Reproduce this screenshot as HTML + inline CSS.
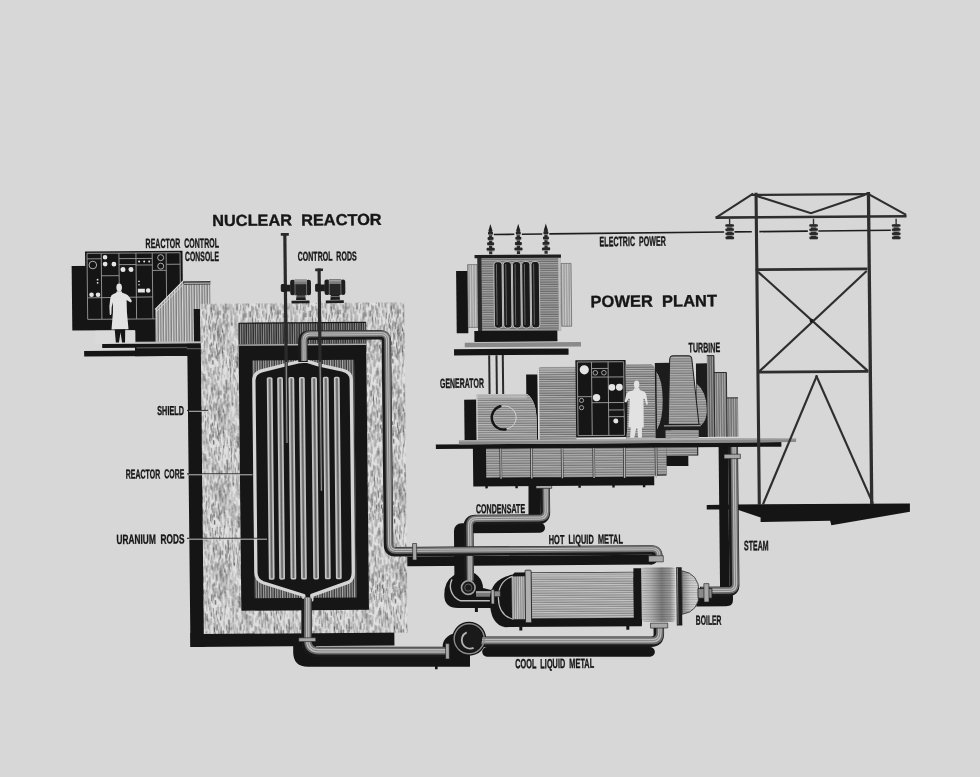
<!DOCTYPE html>
<html><head><meta charset="utf-8"><title>Nuclear Reactor Power Plant</title>
<style>html,body{margin:0;padding:0;background:#d7d7d7;}body{width:980px;height:777px;overflow:hidden;font-family:"Liberation Sans",sans-serif;}svg{display:block;will-change:transform;}</style>
</head><body>
<svg width="980" height="777" viewBox="0 0 980 777"><defs><pattern id="speck" patternUnits="userSpaceOnUse" width="60" height="80"><rect width="60" height="80" fill="#e0e0e0"/><line x1="14.3" y1="43.5" x2="14.3" y2="47.4" stroke="rgb(185,185,185)" stroke-width="0.45" stroke-linecap="round"/><line x1="36.3" y1="72.7" x2="36.3" y2="77.1" stroke="rgb(125,125,125)" stroke-width="0.55" stroke-linecap="round"/><line x1="59.7" y1="37.6" x2="59.7" y2="43.8" stroke="rgb(185,185,185)" stroke-width="0.8" stroke-linecap="round"/><line x1="-0.3" y1="37.6" x2="-0.3" y2="43.8" stroke="rgb(185,185,185)" stroke-width="0.8" stroke-linecap="round"/><line x1="38.3" y1="12.0" x2="38.3" y2="17.2" stroke="rgb(170,170,170)" stroke-width="0.45" stroke-linecap="round"/><line x1="40.3" y1="5.1" x2="40.3" y2="10.9" stroke="rgb(70,70,70)" stroke-width="0.65" stroke-linecap="round"/><line x1="46.8" y1="65.9" x2="46.8" y2="69.2" stroke="rgb(170,170,170)" stroke-width="0.8" stroke-linecap="round"/><line x1="23.7" y1="64.1" x2="23.7" y2="68.3" stroke="rgb(110,110,110)" stroke-width="0.65" stroke-linecap="round"/><line x1="5.8" y1="10.9" x2="5.8" y2="14.0" stroke="rgb(170,170,170)" stroke-width="0.65" stroke-linecap="round"/><line x1="25.3" y1="66.7" x2="25.3" y2="71.5" stroke="rgb(170,170,170)" stroke-width="0.55" stroke-linecap="round"/><line x1="54.3" y1="54.6" x2="54.3" y2="61.2" stroke="rgb(140,140,140)" stroke-width="0.55" stroke-linecap="round"/><line x1="41.9" y1="26.1" x2="41.9" y2="30.8" stroke="rgb(90,90,90)" stroke-width="0.55" stroke-linecap="round"/><line x1="38.0" y1="79.0" x2="38.0" y2="82.4" stroke="rgb(90,90,90)" stroke-width="0.45" stroke-linecap="round"/><line x1="38.0" y1="-1.0" x2="38.0" y2="2.4" stroke="rgb(90,90,90)" stroke-width="0.45" stroke-linecap="round"/><line x1="28.9" y1="51.1" x2="28.9" y2="55.5" stroke="rgb(155,155,155)" stroke-width="0.45" stroke-linecap="round"/><line x1="24.6" y1="12.1" x2="24.6" y2="15.5" stroke="rgb(170,170,170)" stroke-width="0.45" stroke-linecap="round"/><line x1="2.7" y1="49.2" x2="2.7" y2="51.4" stroke="rgb(155,155,155)" stroke-width="0.65" stroke-linecap="round"/><line x1="30.3" y1="79.9" x2="30.3" y2="83.4" stroke="rgb(90,90,90)" stroke-width="0.45" stroke-linecap="round"/><line x1="30.3" y1="-0.1" x2="30.3" y2="3.4" stroke="rgb(90,90,90)" stroke-width="0.45" stroke-linecap="round"/><line x1="36.0" y1="2.5" x2="36.0" y2="5.5" stroke="rgb(170,170,170)" stroke-width="0.65" stroke-linecap="round"/><line x1="36.6" y1="12.5" x2="36.6" y2="14.7" stroke="rgb(155,155,155)" stroke-width="0.65" stroke-linecap="round"/><line x1="21.6" y1="11.1" x2="21.6" y2="17.4" stroke="rgb(170,170,170)" stroke-width="0.8" stroke-linecap="round"/><line x1="52.2" y1="30.9" x2="52.2" y2="37.2" stroke="rgb(90,90,90)" stroke-width="0.65" stroke-linecap="round"/><line x1="25.9" y1="57.6" x2="25.9" y2="60.8" stroke="rgb(140,140,140)" stroke-width="0.8" stroke-linecap="round"/><line x1="58.7" y1="41.7" x2="58.7" y2="46.4" stroke="rgb(70,70,70)" stroke-width="0.8" stroke-linecap="round"/><line x1="59.2" y1="25.2" x2="59.2" y2="29.1" stroke="rgb(110,110,110)" stroke-width="0.45" stroke-linecap="round"/><line x1="38.0" y1="26.6" x2="38.0" y2="30.4" stroke="rgb(155,155,155)" stroke-width="0.65" stroke-linecap="round"/><line x1="44.3" y1="1.8" x2="44.3" y2="4.1" stroke="rgb(70,70,70)" stroke-width="0.65" stroke-linecap="round"/><line x1="15.1" y1="36.5" x2="15.1" y2="41.5" stroke="rgb(155,155,155)" stroke-width="0.55" stroke-linecap="round"/><line x1="21.8" y1="25.0" x2="21.8" y2="28.9" stroke="rgb(140,140,140)" stroke-width="0.65" stroke-linecap="round"/><line x1="47.2" y1="8.4" x2="47.2" y2="14.5" stroke="rgb(110,110,110)" stroke-width="0.65" stroke-linecap="round"/><line x1="30.0" y1="52.3" x2="30.0" y2="55.6" stroke="rgb(155,155,155)" stroke-width="0.55" stroke-linecap="round"/><line x1="40.7" y1="52.0" x2="40.7" y2="54.4" stroke="rgb(155,155,155)" stroke-width="0.65" stroke-linecap="round"/><line x1="40.5" y1="18.0" x2="40.5" y2="24.0" stroke="rgb(110,110,110)" stroke-width="0.45" stroke-linecap="round"/><line x1="20.2" y1="52.0" x2="20.2" y2="58.4" stroke="rgb(185,185,185)" stroke-width="0.65" stroke-linecap="round"/><line x1="13.5" y1="9.7" x2="13.5" y2="14.3" stroke="rgb(125,125,125)" stroke-width="0.65" stroke-linecap="round"/><line x1="48.4" y1="67.1" x2="48.4" y2="70.0" stroke="rgb(140,140,140)" stroke-width="0.65" stroke-linecap="round"/><line x1="48.4" y1="51.4" x2="48.4" y2="57.4" stroke="rgb(155,155,155)" stroke-width="0.55" stroke-linecap="round"/><line x1="25.3" y1="41.5" x2="25.3" y2="47.7" stroke="rgb(185,185,185)" stroke-width="0.65" stroke-linecap="round"/><line x1="38.1" y1="23.2" x2="38.1" y2="28.1" stroke="rgb(70,70,70)" stroke-width="0.8" stroke-linecap="round"/><line x1="9.4" y1="0.4" x2="9.4" y2="7.1" stroke="rgb(170,170,170)" stroke-width="0.55" stroke-linecap="round"/><line x1="1.9" y1="36.5" x2="1.9" y2="42.3" stroke="rgb(140,140,140)" stroke-width="0.65" stroke-linecap="round"/><line x1="53.4" y1="68.9" x2="53.4" y2="75.2" stroke="rgb(140,140,140)" stroke-width="0.45" stroke-linecap="round"/><line x1="48.6" y1="3.6" x2="48.6" y2="10.1" stroke="rgb(125,125,125)" stroke-width="0.8" stroke-linecap="round"/><line x1="34.6" y1="1.1" x2="34.6" y2="6.8" stroke="rgb(110,110,110)" stroke-width="0.65" stroke-linecap="round"/><line x1="14.3" y1="1.6" x2="14.3" y2="6.3" stroke="rgb(70,70,70)" stroke-width="0.45" stroke-linecap="round"/><line x1="20.5" y1="20.2" x2="20.5" y2="26.5" stroke="rgb(185,185,185)" stroke-width="0.45" stroke-linecap="round"/><line x1="21.1" y1="15.8" x2="21.1" y2="20.5" stroke="rgb(90,90,90)" stroke-width="0.55" stroke-linecap="round"/><line x1="14.4" y1="21.9" x2="14.4" y2="28.3" stroke="rgb(110,110,110)" stroke-width="0.45" stroke-linecap="round"/><line x1="29.3" y1="45.7" x2="29.3" y2="49.7" stroke="rgb(140,140,140)" stroke-width="0.55" stroke-linecap="round"/><line x1="16.1" y1="42.2" x2="16.1" y2="46.3" stroke="rgb(185,185,185)" stroke-width="0.65" stroke-linecap="round"/><line x1="46.6" y1="0.1" x2="46.6" y2="2.4" stroke="rgb(110,110,110)" stroke-width="0.45" stroke-linecap="round"/><line x1="7.5" y1="5.5" x2="7.5" y2="12.3" stroke="rgb(90,90,90)" stroke-width="0.8" stroke-linecap="round"/><line x1="19.0" y1="25.2" x2="19.0" y2="28.9" stroke="rgb(170,170,170)" stroke-width="0.65" stroke-linecap="round"/><line x1="21.7" y1="15.3" x2="21.7" y2="18.9" stroke="rgb(90,90,90)" stroke-width="0.55" stroke-linecap="round"/><line x1="33.3" y1="57.3" x2="33.3" y2="61.2" stroke="rgb(90,90,90)" stroke-width="0.55" stroke-linecap="round"/><line x1="2.6" y1="36.9" x2="2.6" y2="42.1" stroke="rgb(170,170,170)" stroke-width="0.45" stroke-linecap="round"/><line x1="37.4" y1="34.5" x2="37.4" y2="38.4" stroke="rgb(185,185,185)" stroke-width="0.65" stroke-linecap="round"/><line x1="25.2" y1="55.5" x2="25.2" y2="59.8" stroke="rgb(125,125,125)" stroke-width="0.55" stroke-linecap="round"/><line x1="32.2" y1="55.6" x2="32.2" y2="58.0" stroke="rgb(170,170,170)" stroke-width="0.55" stroke-linecap="round"/><line x1="25.6" y1="70.4" x2="25.6" y2="77.1" stroke="rgb(155,155,155)" stroke-width="0.65" stroke-linecap="round"/><line x1="7.3" y1="55.2" x2="7.3" y2="61.9" stroke="rgb(170,170,170)" stroke-width="0.45" stroke-linecap="round"/><line x1="44.0" y1="45.1" x2="44.0" y2="47.6" stroke="rgb(70,70,70)" stroke-width="0.8" stroke-linecap="round"/><line x1="8.6" y1="61.9" x2="8.6" y2="64.2" stroke="rgb(90,90,90)" stroke-width="0.45" stroke-linecap="round"/><line x1="39.6" y1="30.1" x2="39.6" y2="36.2" stroke="rgb(155,155,155)" stroke-width="0.45" stroke-linecap="round"/><line x1="1.5" y1="9.2" x2="1.5" y2="13.6" stroke="rgb(140,140,140)" stroke-width="0.65" stroke-linecap="round"/><line x1="47.9" y1="2.9" x2="47.9" y2="8.7" stroke="rgb(125,125,125)" stroke-width="0.45" stroke-linecap="round"/><line x1="33.3" y1="8.0" x2="33.3" y2="12.8" stroke="rgb(155,155,155)" stroke-width="0.55" stroke-linecap="round"/><line x1="49.7" y1="19.4" x2="49.7" y2="22.3" stroke="rgb(125,125,125)" stroke-width="0.8" stroke-linecap="round"/><line x1="37.0" y1="60.3" x2="37.0" y2="64.3" stroke="rgb(155,155,155)" stroke-width="0.8" stroke-linecap="round"/><line x1="56.3" y1="44.5" x2="56.3" y2="51.4" stroke="rgb(170,170,170)" stroke-width="0.55" stroke-linecap="round"/><line x1="58.4" y1="33.0" x2="58.4" y2="38.8" stroke="rgb(110,110,110)" stroke-width="0.8" stroke-linecap="round"/><line x1="41.5" y1="60.5" x2="41.5" y2="65.9" stroke="rgb(185,185,185)" stroke-width="0.55" stroke-linecap="round"/><line x1="38.6" y1="71.8" x2="38.6" y2="74.5" stroke="rgb(90,90,90)" stroke-width="0.8" stroke-linecap="round"/><line x1="44.9" y1="73.3" x2="44.9" y2="77.9" stroke="rgb(185,185,185)" stroke-width="0.55" stroke-linecap="round"/><line x1="8.2" y1="60.2" x2="8.2" y2="62.9" stroke="rgb(155,155,155)" stroke-width="0.55" stroke-linecap="round"/><line x1="51.1" y1="43.0" x2="51.1" y2="48.9" stroke="rgb(170,170,170)" stroke-width="0.65" stroke-linecap="round"/><line x1="53.4" y1="24.6" x2="53.4" y2="27.9" stroke="rgb(170,170,170)" stroke-width="0.55" stroke-linecap="round"/><line x1="10.3" y1="28.8" x2="10.3" y2="32.4" stroke="rgb(110,110,110)" stroke-width="0.8" stroke-linecap="round"/><line x1="59.5" y1="38.4" x2="59.5" y2="43.4" stroke="rgb(185,185,185)" stroke-width="0.45" stroke-linecap="round"/><line x1="28.9" y1="57.7" x2="28.9" y2="63.9" stroke="rgb(170,170,170)" stroke-width="0.45" stroke-linecap="round"/><line x1="28.0" y1="18.4" x2="28.0" y2="21.5" stroke="rgb(90,90,90)" stroke-width="0.55" stroke-linecap="round"/><line x1="51.2" y1="19.4" x2="51.2" y2="22.3" stroke="rgb(140,140,140)" stroke-width="0.55" stroke-linecap="round"/><line x1="11.2" y1="56.4" x2="11.2" y2="62.7" stroke="rgb(140,140,140)" stroke-width="0.55" stroke-linecap="round"/><line x1="51.9" y1="25.1" x2="51.9" y2="29.2" stroke="rgb(90,90,90)" stroke-width="0.45" stroke-linecap="round"/><line x1="5.6" y1="66.7" x2="5.6" y2="70.2" stroke="rgb(155,155,155)" stroke-width="0.8" stroke-linecap="round"/><line x1="34.8" y1="54.0" x2="34.8" y2="56.1" stroke="rgb(155,155,155)" stroke-width="0.65" stroke-linecap="round"/><line x1="26.2" y1="38.9" x2="26.2" y2="41.9" stroke="rgb(185,185,185)" stroke-width="0.8" stroke-linecap="round"/><line x1="7.5" y1="25.5" x2="7.5" y2="31.9" stroke="rgb(90,90,90)" stroke-width="0.8" stroke-linecap="round"/><line x1="6.8" y1="71.0" x2="6.8" y2="77.5" stroke="rgb(90,90,90)" stroke-width="0.65" stroke-linecap="round"/><line x1="40.7" y1="29.5" x2="40.7" y2="33.7" stroke="rgb(140,140,140)" stroke-width="0.45" stroke-linecap="round"/><line x1="45.3" y1="76.9" x2="45.3" y2="82.3" stroke="rgb(90,90,90)" stroke-width="0.8" stroke-linecap="round"/><line x1="45.3" y1="-3.1" x2="45.3" y2="2.3" stroke="rgb(90,90,90)" stroke-width="0.8" stroke-linecap="round"/><line x1="30.5" y1="4.8" x2="30.5" y2="8.2" stroke="rgb(110,110,110)" stroke-width="0.55" stroke-linecap="round"/><line x1="10.7" y1="71.2" x2="10.7" y2="76.5" stroke="rgb(90,90,90)" stroke-width="0.45" stroke-linecap="round"/><line x1="55.9" y1="11.3" x2="55.9" y2="15.0" stroke="rgb(170,170,170)" stroke-width="0.65" stroke-linecap="round"/><line x1="38.8" y1="36.6" x2="38.8" y2="40.2" stroke="rgb(110,110,110)" stroke-width="0.45" stroke-linecap="round"/><line x1="6.4" y1="14.5" x2="6.4" y2="19.3" stroke="rgb(170,170,170)" stroke-width="0.65" stroke-linecap="round"/><line x1="6.0" y1="21.7" x2="6.0" y2="23.9" stroke="rgb(110,110,110)" stroke-width="0.45" stroke-linecap="round"/><line x1="28.7" y1="21.7" x2="28.7" y2="27.2" stroke="rgb(155,155,155)" stroke-width="0.65" stroke-linecap="round"/><line x1="56.7" y1="35.9" x2="56.7" y2="41.9" stroke="rgb(90,90,90)" stroke-width="0.65" stroke-linecap="round"/><line x1="29.9" y1="79.7" x2="29.9" y2="82.4" stroke="rgb(90,90,90)" stroke-width="0.45" stroke-linecap="round"/><line x1="29.9" y1="-0.3" x2="29.9" y2="2.4" stroke="rgb(90,90,90)" stroke-width="0.45" stroke-linecap="round"/><line x1="33.9" y1="72.8" x2="33.9" y2="75.4" stroke="rgb(125,125,125)" stroke-width="0.8" stroke-linecap="round"/><line x1="40.2" y1="31.3" x2="40.2" y2="38.2" stroke="rgb(110,110,110)" stroke-width="0.55" stroke-linecap="round"/><line x1="51.6" y1="63.9" x2="51.6" y2="68.6" stroke="rgb(110,110,110)" stroke-width="0.55" stroke-linecap="round"/><line x1="12.1" y1="20.0" x2="12.1" y2="25.9" stroke="rgb(70,70,70)" stroke-width="0.8" stroke-linecap="round"/><line x1="53.5" y1="75.9" x2="53.5" y2="79.9" stroke="rgb(140,140,140)" stroke-width="0.8" stroke-linecap="round"/><line x1="58.6" y1="54.9" x2="58.6" y2="58.4" stroke="rgb(185,185,185)" stroke-width="0.45" stroke-linecap="round"/><line x1="36.1" y1="58.1" x2="36.1" y2="60.2" stroke="rgb(125,125,125)" stroke-width="0.8" stroke-linecap="round"/><line x1="10.4" y1="50.0" x2="10.4" y2="53.0" stroke="rgb(125,125,125)" stroke-width="0.45" stroke-linecap="round"/><line x1="48.8" y1="74.1" x2="48.8" y2="80.8" stroke="rgb(90,90,90)" stroke-width="0.65" stroke-linecap="round"/><line x1="48.8" y1="-5.9" x2="48.8" y2="0.8" stroke="rgb(90,90,90)" stroke-width="0.65" stroke-linecap="round"/><line x1="57.5" y1="71.4" x2="57.5" y2="74.0" stroke="rgb(90,90,90)" stroke-width="0.45" stroke-linecap="round"/><line x1="1.5" y1="49.5" x2="1.5" y2="54.0" stroke="rgb(185,185,185)" stroke-width="0.45" stroke-linecap="round"/><line x1="55.8" y1="25.8" x2="55.8" y2="32.2" stroke="rgb(110,110,110)" stroke-width="0.45" stroke-linecap="round"/><line x1="51.5" y1="48.1" x2="51.5" y2="54.7" stroke="rgb(90,90,90)" stroke-width="0.65" stroke-linecap="round"/><line x1="59.9" y1="16.4" x2="59.9" y2="18.7" stroke="rgb(125,125,125)" stroke-width="0.8" stroke-linecap="round"/><line x1="-0.1" y1="16.4" x2="-0.1" y2="18.7" stroke="rgb(125,125,125)" stroke-width="0.8" stroke-linecap="round"/><line x1="41.9" y1="17.7" x2="41.9" y2="21.3" stroke="rgb(70,70,70)" stroke-width="0.8" stroke-linecap="round"/><line x1="4.7" y1="16.0" x2="4.7" y2="18.8" stroke="rgb(185,185,185)" stroke-width="0.8" stroke-linecap="round"/><line x1="42.0" y1="43.0" x2="42.0" y2="47.1" stroke="rgb(185,185,185)" stroke-width="0.65" stroke-linecap="round"/><line x1="1.4" y1="36.6" x2="1.4" y2="42.1" stroke="rgb(185,185,185)" stroke-width="0.55" stroke-linecap="round"/><line x1="27.3" y1="3.0" x2="27.3" y2="6.3" stroke="rgb(155,155,155)" stroke-width="0.8" stroke-linecap="round"/><line x1="31.8" y1="47.7" x2="31.8" y2="50.8" stroke="rgb(70,70,70)" stroke-width="0.55" stroke-linecap="round"/><line x1="15.5" y1="29.6" x2="15.5" y2="35.8" stroke="rgb(125,125,125)" stroke-width="0.55" stroke-linecap="round"/><line x1="12.6" y1="13.7" x2="12.6" y2="17.7" stroke="rgb(110,110,110)" stroke-width="0.45" stroke-linecap="round"/><line x1="8.4" y1="48.7" x2="8.4" y2="52.9" stroke="rgb(110,110,110)" stroke-width="0.45" stroke-linecap="round"/><line x1="50.5" y1="32.2" x2="50.5" y2="35.8" stroke="rgb(70,70,70)" stroke-width="0.45" stroke-linecap="round"/><line x1="14.4" y1="3.1" x2="14.4" y2="7.6" stroke="rgb(125,125,125)" stroke-width="0.55" stroke-linecap="round"/><line x1="5.7" y1="38.0" x2="5.7" y2="40.8" stroke="rgb(90,90,90)" stroke-width="0.65" stroke-linecap="round"/><line x1="54.8" y1="47.6" x2="54.8" y2="53.6" stroke="rgb(140,140,140)" stroke-width="0.65" stroke-linecap="round"/><line x1="58.9" y1="75.4" x2="58.9" y2="81.3" stroke="rgb(140,140,140)" stroke-width="0.8" stroke-linecap="round"/><line x1="58.9" y1="-4.6" x2="58.9" y2="1.3" stroke="rgb(140,140,140)" stroke-width="0.8" stroke-linecap="round"/><line x1="15.0" y1="21.3" x2="15.0" y2="27.3" stroke="rgb(155,155,155)" stroke-width="0.65" stroke-linecap="round"/><line x1="5.6" y1="54.6" x2="5.6" y2="61.4" stroke="rgb(70,70,70)" stroke-width="0.45" stroke-linecap="round"/><line x1="1.8" y1="7.2" x2="1.8" y2="10.1" stroke="rgb(70,70,70)" stroke-width="0.8" stroke-linecap="round"/><line x1="3.2" y1="52.3" x2="3.2" y2="58.8" stroke="rgb(125,125,125)" stroke-width="0.8" stroke-linecap="round"/><line x1="20.4" y1="38.3" x2="20.4" y2="42.0" stroke="rgb(70,70,70)" stroke-width="0.8" stroke-linecap="round"/><line x1="18.3" y1="48.6" x2="18.3" y2="55.3" stroke="rgb(90,90,90)" stroke-width="0.65" stroke-linecap="round"/><line x1="11.0" y1="33.0" x2="11.0" y2="37.6" stroke="rgb(155,155,155)" stroke-width="0.8" stroke-linecap="round"/><line x1="10.5" y1="59.2" x2="10.5" y2="64.9" stroke="rgb(155,155,155)" stroke-width="0.55" stroke-linecap="round"/><line x1="21.8" y1="33.2" x2="21.8" y2="36.3" stroke="rgb(185,185,185)" stroke-width="0.65" stroke-linecap="round"/><line x1="16.2" y1="13.6" x2="16.2" y2="19.2" stroke="rgb(170,170,170)" stroke-width="0.8" stroke-linecap="round"/><line x1="2.6" y1="13.7" x2="2.6" y2="19.5" stroke="rgb(185,185,185)" stroke-width="0.45" stroke-linecap="round"/><line x1="45.5" y1="54.2" x2="45.5" y2="56.7" stroke="rgb(125,125,125)" stroke-width="0.45" stroke-linecap="round"/><line x1="52.7" y1="69.8" x2="52.7" y2="74.0" stroke="rgb(155,155,155)" stroke-width="0.65" stroke-linecap="round"/><line x1="0.1" y1="15.6" x2="0.1" y2="21.5" stroke="rgb(90,90,90)" stroke-width="0.65" stroke-linecap="round"/><line x1="34.1" y1="8.8" x2="34.1" y2="11.2" stroke="rgb(125,125,125)" stroke-width="0.55" stroke-linecap="round"/><line x1="41.3" y1="78.2" x2="41.3" y2="84.9" stroke="rgb(110,110,110)" stroke-width="0.45" stroke-linecap="round"/><line x1="41.3" y1="-1.8" x2="41.3" y2="4.9" stroke="rgb(110,110,110)" stroke-width="0.45" stroke-linecap="round"/><line x1="6.7" y1="23.0" x2="6.7" y2="26.0" stroke="rgb(170,170,170)" stroke-width="0.65" stroke-linecap="round"/><line x1="47.3" y1="42.8" x2="47.3" y2="45.8" stroke="rgb(110,110,110)" stroke-width="0.45" stroke-linecap="round"/><line x1="2.5" y1="64.5" x2="2.5" y2="69.5" stroke="rgb(90,90,90)" stroke-width="0.55" stroke-linecap="round"/><line x1="56.6" y1="20.4" x2="56.6" y2="22.9" stroke="rgb(170,170,170)" stroke-width="0.55" stroke-linecap="round"/><line x1="49.5" y1="54.5" x2="49.5" y2="57.0" stroke="rgb(185,185,185)" stroke-width="0.65" stroke-linecap="round"/><line x1="24.2" y1="52.9" x2="24.2" y2="58.8" stroke="rgb(140,140,140)" stroke-width="0.8" stroke-linecap="round"/><line x1="48.9" y1="16.5" x2="48.9" y2="21.2" stroke="rgb(185,185,185)" stroke-width="0.65" stroke-linecap="round"/><line x1="43.7" y1="6.2" x2="43.7" y2="9.9" stroke="rgb(185,185,185)" stroke-width="0.45" stroke-linecap="round"/><line x1="55.4" y1="54.9" x2="55.4" y2="58.7" stroke="rgb(90,90,90)" stroke-width="0.55" stroke-linecap="round"/><line x1="15.0" y1="67.0" x2="15.0" y2="69.3" stroke="rgb(125,125,125)" stroke-width="0.8" stroke-linecap="round"/><line x1="26.3" y1="20.1" x2="26.3" y2="23.7" stroke="rgb(125,125,125)" stroke-width="0.55" stroke-linecap="round"/><line x1="52.5" y1="78.9" x2="52.5" y2="84.0" stroke="rgb(170,170,170)" stroke-width="0.65" stroke-linecap="round"/><line x1="52.5" y1="-1.1" x2="52.5" y2="4.0" stroke="rgb(170,170,170)" stroke-width="0.65" stroke-linecap="round"/><line x1="56.9" y1="72.2" x2="56.9" y2="79.0" stroke="rgb(185,185,185)" stroke-width="0.8" stroke-linecap="round"/><line x1="28.2" y1="47.0" x2="28.2" y2="49.2" stroke="rgb(70,70,70)" stroke-width="0.55" stroke-linecap="round"/><line x1="53.5" y1="2.3" x2="53.5" y2="5.0" stroke="rgb(70,70,70)" stroke-width="0.8" stroke-linecap="round"/><line x1="2.4" y1="59.6" x2="2.4" y2="63.0" stroke="rgb(170,170,170)" stroke-width="0.45" stroke-linecap="round"/><line x1="20.7" y1="59.4" x2="20.7" y2="65.1" stroke="rgb(140,140,140)" stroke-width="0.55" stroke-linecap="round"/><line x1="6.2" y1="23.9" x2="6.2" y2="28.0" stroke="rgb(90,90,90)" stroke-width="0.55" stroke-linecap="round"/><line x1="9.2" y1="61.0" x2="9.2" y2="66.5" stroke="rgb(170,170,170)" stroke-width="0.65" stroke-linecap="round"/><line x1="56.6" y1="34.5" x2="56.6" y2="41.2" stroke="rgb(185,185,185)" stroke-width="0.55" stroke-linecap="round"/><line x1="21.6" y1="68.2" x2="21.6" y2="71.6" stroke="rgb(185,185,185)" stroke-width="0.65" stroke-linecap="round"/><line x1="53.2" y1="64.6" x2="53.2" y2="68.1" stroke="rgb(125,125,125)" stroke-width="0.45" stroke-linecap="round"/><line x1="0.9" y1="50.3" x2="0.9" y2="53.1" stroke="rgb(70,70,70)" stroke-width="0.55" stroke-linecap="round"/><line x1="57.0" y1="0.2" x2="57.0" y2="7.1" stroke="rgb(185,185,185)" stroke-width="0.65" stroke-linecap="round"/><line x1="58.8" y1="62.8" x2="58.8" y2="69.7" stroke="rgb(70,70,70)" stroke-width="0.8" stroke-linecap="round"/><line x1="11.1" y1="1.1" x2="11.1" y2="5.2" stroke="rgb(155,155,155)" stroke-width="0.45" stroke-linecap="round"/><line x1="36.2" y1="64.9" x2="36.2" y2="69.1" stroke="rgb(140,140,140)" stroke-width="0.55" stroke-linecap="round"/><line x1="40.3" y1="39.9" x2="40.3" y2="45.5" stroke="rgb(155,155,155)" stroke-width="0.45" stroke-linecap="round"/><line x1="1.8" y1="3.0" x2="1.8" y2="10.0" stroke="rgb(110,110,110)" stroke-width="0.55" stroke-linecap="round"/><line x1="57.2" y1="59.5" x2="57.2" y2="65.7" stroke="rgb(170,170,170)" stroke-width="0.65" stroke-linecap="round"/><line x1="33.1" y1="22.4" x2="33.1" y2="25.2" stroke="rgb(70,70,70)" stroke-width="0.8" stroke-linecap="round"/><line x1="38.6" y1="71.8" x2="38.6" y2="78.3" stroke="rgb(185,185,185)" stroke-width="0.8" stroke-linecap="round"/><line x1="22.3" y1="50.6" x2="22.3" y2="54.0" stroke="rgb(90,90,90)" stroke-width="0.55" stroke-linecap="round"/><line x1="59.5" y1="43.8" x2="59.5" y2="47.8" stroke="rgb(155,155,155)" stroke-width="0.8" stroke-linecap="round"/><line x1="-0.5" y1="43.8" x2="-0.5" y2="47.8" stroke="rgb(155,155,155)" stroke-width="0.8" stroke-linecap="round"/><line x1="27.3" y1="64.2" x2="27.3" y2="68.5" stroke="rgb(110,110,110)" stroke-width="0.65" stroke-linecap="round"/><line x1="8.4" y1="3.0" x2="8.4" y2="7.4" stroke="rgb(125,125,125)" stroke-width="0.8" stroke-linecap="round"/><line x1="55.9" y1="49.0" x2="55.9" y2="51.2" stroke="rgb(90,90,90)" stroke-width="0.8" stroke-linecap="round"/><line x1="7.5" y1="62.8" x2="7.5" y2="68.6" stroke="rgb(140,140,140)" stroke-width="0.45" stroke-linecap="round"/><line x1="26.1" y1="6.1" x2="26.1" y2="8.2" stroke="rgb(185,185,185)" stroke-width="0.8" stroke-linecap="round"/><line x1="11.7" y1="73.7" x2="11.7" y2="76.6" stroke="rgb(170,170,170)" stroke-width="0.8" stroke-linecap="round"/><line x1="19.0" y1="21.7" x2="19.0" y2="28.4" stroke="rgb(155,155,155)" stroke-width="0.65" stroke-linecap="round"/><line x1="36.6" y1="44.4" x2="36.6" y2="46.6" stroke="rgb(170,170,170)" stroke-width="0.65" stroke-linecap="round"/><line x1="24.8" y1="71.9" x2="24.8" y2="76.4" stroke="rgb(125,125,125)" stroke-width="0.45" stroke-linecap="round"/><line x1="41.9" y1="9.2" x2="41.9" y2="14.4" stroke="rgb(90,90,90)" stroke-width="0.45" stroke-linecap="round"/><line x1="56.5" y1="77.9" x2="56.5" y2="83.4" stroke="rgb(170,170,170)" stroke-width="0.65" stroke-linecap="round"/><line x1="56.5" y1="-2.1" x2="56.5" y2="3.4" stroke="rgb(170,170,170)" stroke-width="0.65" stroke-linecap="round"/><line x1="59.0" y1="36.9" x2="59.0" y2="40.4" stroke="rgb(70,70,70)" stroke-width="0.55" stroke-linecap="round"/><line x1="14.2" y1="76.6" x2="14.2" y2="79.3" stroke="rgb(110,110,110)" stroke-width="0.8" stroke-linecap="round"/><line x1="40.5" y1="51.8" x2="40.5" y2="54.5" stroke="rgb(70,70,70)" stroke-width="0.55" stroke-linecap="round"/><line x1="45.6" y1="14.1" x2="45.6" y2="17.0" stroke="rgb(110,110,110)" stroke-width="0.55" stroke-linecap="round"/><line x1="2.9" y1="76.9" x2="2.9" y2="81.5" stroke="rgb(170,170,170)" stroke-width="0.45" stroke-linecap="round"/><line x1="2.9" y1="-3.1" x2="2.9" y2="1.5" stroke="rgb(170,170,170)" stroke-width="0.45" stroke-linecap="round"/><line x1="26.0" y1="14.5" x2="26.0" y2="16.7" stroke="rgb(90,90,90)" stroke-width="0.55" stroke-linecap="round"/><line x1="6.9" y1="23.6" x2="6.9" y2="27.5" stroke="rgb(90,90,90)" stroke-width="0.55" stroke-linecap="round"/><line x1="0.4" y1="29.7" x2="0.4" y2="32.4" stroke="rgb(185,185,185)" stroke-width="0.55" stroke-linecap="round"/><line x1="3.9" y1="43.7" x2="3.9" y2="50.2" stroke="rgb(90,90,90)" stroke-width="0.65" stroke-linecap="round"/><line x1="28.4" y1="59.2" x2="28.4" y2="63.8" stroke="rgb(185,185,185)" stroke-width="0.8" stroke-linecap="round"/><line x1="27.8" y1="43.1" x2="27.8" y2="47.3" stroke="rgb(185,185,185)" stroke-width="0.8" stroke-linecap="round"/><line x1="12.0" y1="47.5" x2="12.0" y2="54.2" stroke="rgb(110,110,110)" stroke-width="0.65" stroke-linecap="round"/><line x1="57.8" y1="67.2" x2="57.8" y2="70.0" stroke="rgb(140,140,140)" stroke-width="0.55" stroke-linecap="round"/><line x1="7.8" y1="48.3" x2="7.8" y2="50.6" stroke="rgb(110,110,110)" stroke-width="0.45" stroke-linecap="round"/><line x1="34.4" y1="12.6" x2="34.4" y2="15.2" stroke="rgb(170,170,170)" stroke-width="0.65" stroke-linecap="round"/><line x1="31.5" y1="61.3" x2="31.5" y2="63.7" stroke="rgb(185,185,185)" stroke-width="0.65" stroke-linecap="round"/><line x1="8.8" y1="48.0" x2="8.8" y2="51.6" stroke="rgb(155,155,155)" stroke-width="0.65" stroke-linecap="round"/><line x1="35.5" y1="56.2" x2="35.5" y2="62.1" stroke="rgb(155,155,155)" stroke-width="0.65" stroke-linecap="round"/><line x1="17.2" y1="78.1" x2="17.2" y2="81.5" stroke="rgb(90,90,90)" stroke-width="0.55" stroke-linecap="round"/><line x1="17.2" y1="-1.9" x2="17.2" y2="1.5" stroke="rgb(90,90,90)" stroke-width="0.55" stroke-linecap="round"/><line x1="43.9" y1="27.3" x2="43.9" y2="32.5" stroke="rgb(140,140,140)" stroke-width="0.8" stroke-linecap="round"/><line x1="58.0" y1="36.2" x2="58.0" y2="40.6" stroke="rgb(110,110,110)" stroke-width="0.8" stroke-linecap="round"/><line x1="59.7" y1="4.1" x2="59.7" y2="8.2" stroke="rgb(140,140,140)" stroke-width="0.45" stroke-linecap="round"/><line x1="-0.3" y1="4.1" x2="-0.3" y2="8.2" stroke="rgb(140,140,140)" stroke-width="0.45" stroke-linecap="round"/><line x1="14.2" y1="30.5" x2="14.2" y2="33.6" stroke="rgb(90,90,90)" stroke-width="0.65" stroke-linecap="round"/><line x1="30.8" y1="4.4" x2="30.8" y2="8.9" stroke="rgb(90,90,90)" stroke-width="0.8" stroke-linecap="round"/><line x1="43.9" y1="31.2" x2="43.9" y2="36.0" stroke="rgb(70,70,70)" stroke-width="0.65" stroke-linecap="round"/><line x1="22.3" y1="29.7" x2="22.3" y2="33.9" stroke="rgb(90,90,90)" stroke-width="0.8" stroke-linecap="round"/><line x1="8.8" y1="17.6" x2="8.8" y2="21.4" stroke="rgb(70,70,70)" stroke-width="0.55" stroke-linecap="round"/><line x1="53.1" y1="16.7" x2="53.1" y2="20.9" stroke="rgb(125,125,125)" stroke-width="0.45" stroke-linecap="round"/><line x1="1.7" y1="58.7" x2="1.7" y2="62.2" stroke="rgb(185,185,185)" stroke-width="0.65" stroke-linecap="round"/><line x1="49.7" y1="67.0" x2="49.7" y2="73.6" stroke="rgb(185,185,185)" stroke-width="0.65" stroke-linecap="round"/><line x1="40.9" y1="9.7" x2="40.9" y2="16.1" stroke="rgb(170,170,170)" stroke-width="0.55" stroke-linecap="round"/><line x1="28.5" y1="71.2" x2="28.5" y2="74.7" stroke="rgb(125,125,125)" stroke-width="0.45" stroke-linecap="round"/><line x1="49.4" y1="47.9" x2="49.4" y2="50.3" stroke="rgb(70,70,70)" stroke-width="0.65" stroke-linecap="round"/><line x1="23.0" y1="39.2" x2="23.0" y2="46.1" stroke="rgb(185,185,185)" stroke-width="0.65" stroke-linecap="round"/><line x1="8.4" y1="16.3" x2="8.4" y2="21.5" stroke="rgb(140,140,140)" stroke-width="0.8" stroke-linecap="round"/><line x1="17.2" y1="51.2" x2="17.2" y2="57.0" stroke="rgb(90,90,90)" stroke-width="0.45" stroke-linecap="round"/><line x1="26.5" y1="60.3" x2="26.5" y2="67.2" stroke="rgb(90,90,90)" stroke-width="0.45" stroke-linecap="round"/><line x1="19.5" y1="73.0" x2="19.5" y2="78.2" stroke="rgb(90,90,90)" stroke-width="0.65" stroke-linecap="round"/><line x1="38.7" y1="70.5" x2="38.7" y2="73.7" stroke="rgb(155,155,155)" stroke-width="0.55" stroke-linecap="round"/><line x1="38.9" y1="76.6" x2="38.9" y2="78.9" stroke="rgb(70,70,70)" stroke-width="0.55" stroke-linecap="round"/><line x1="34.4" y1="6.8" x2="34.4" y2="10.0" stroke="rgb(185,185,185)" stroke-width="0.8" stroke-linecap="round"/><line x1="17.1" y1="78.6" x2="17.1" y2="83.9" stroke="rgb(125,125,125)" stroke-width="0.55" stroke-linecap="round"/><line x1="17.1" y1="-1.4" x2="17.1" y2="3.9" stroke="rgb(125,125,125)" stroke-width="0.55" stroke-linecap="round"/><line x1="34.4" y1="27.4" x2="34.4" y2="32.4" stroke="rgb(155,155,155)" stroke-width="0.65" stroke-linecap="round"/><line x1="18.9" y1="68.8" x2="18.9" y2="73.7" stroke="rgb(125,125,125)" stroke-width="0.8" stroke-linecap="round"/><line x1="3.6" y1="34.6" x2="3.6" y2="38.2" stroke="rgb(125,125,125)" stroke-width="0.8" stroke-linecap="round"/><line x1="52.3" y1="17.3" x2="52.3" y2="23.4" stroke="rgb(185,185,185)" stroke-width="0.45" stroke-linecap="round"/><line x1="55.7" y1="40.1" x2="55.7" y2="46.3" stroke="rgb(155,155,155)" stroke-width="0.55" stroke-linecap="round"/><line x1="45.3" y1="26.2" x2="45.3" y2="29.4" stroke="rgb(70,70,70)" stroke-width="0.55" stroke-linecap="round"/><line x1="24.1" y1="31.1" x2="24.1" y2="34.0" stroke="rgb(140,140,140)" stroke-width="0.65" stroke-linecap="round"/><line x1="15.8" y1="55.5" x2="15.8" y2="59.2" stroke="rgb(90,90,90)" stroke-width="0.55" stroke-linecap="round"/><line x1="13.2" y1="35.4" x2="13.2" y2="40.2" stroke="rgb(125,125,125)" stroke-width="0.8" stroke-linecap="round"/><line x1="42.0" y1="17.2" x2="42.0" y2="22.6" stroke="rgb(125,125,125)" stroke-width="0.55" stroke-linecap="round"/><line x1="41.0" y1="42.5" x2="41.0" y2="47.4" stroke="rgb(170,170,170)" stroke-width="0.55" stroke-linecap="round"/><line x1="37.7" y1="35.4" x2="37.7" y2="37.7" stroke="rgb(185,185,185)" stroke-width="0.8" stroke-linecap="round"/><line x1="1.1" y1="14.1" x2="1.1" y2="18.7" stroke="rgb(170,170,170)" stroke-width="0.8" stroke-linecap="round"/><line x1="13.3" y1="65.4" x2="13.3" y2="72.3" stroke="rgb(155,155,155)" stroke-width="0.8" stroke-linecap="round"/><line x1="59.7" y1="38.7" x2="59.7" y2="41.5" stroke="rgb(170,170,170)" stroke-width="0.65" stroke-linecap="round"/><line x1="-0.3" y1="38.7" x2="-0.3" y2="41.5" stroke="rgb(170,170,170)" stroke-width="0.65" stroke-linecap="round"/><line x1="51.9" y1="11.5" x2="51.9" y2="15.1" stroke="rgb(155,155,155)" stroke-width="0.55" stroke-linecap="round"/><line x1="51.1" y1="38.2" x2="51.1" y2="42.9" stroke="rgb(185,185,185)" stroke-width="0.65" stroke-linecap="round"/><line x1="29.6" y1="46.6" x2="29.6" y2="52.7" stroke="rgb(125,125,125)" stroke-width="0.45" stroke-linecap="round"/><line x1="42.1" y1="78.0" x2="42.1" y2="83.0" stroke="rgb(140,140,140)" stroke-width="0.65" stroke-linecap="round"/><line x1="42.1" y1="-2.0" x2="42.1" y2="3.0" stroke="rgb(140,140,140)" stroke-width="0.65" stroke-linecap="round"/><line x1="59.3" y1="66.9" x2="59.3" y2="72.6" stroke="rgb(140,140,140)" stroke-width="0.45" stroke-linecap="round"/><line x1="25.4" y1="44.7" x2="25.4" y2="50.5" stroke="rgb(170,170,170)" stroke-width="0.8" stroke-linecap="round"/><line x1="22.2" y1="14.5" x2="22.2" y2="18.0" stroke="rgb(125,125,125)" stroke-width="0.8" stroke-linecap="round"/><line x1="42.8" y1="25.9" x2="42.8" y2="28.7" stroke="rgb(185,185,185)" stroke-width="0.55" stroke-linecap="round"/><line x1="32.5" y1="37.2" x2="32.5" y2="43.8" stroke="rgb(155,155,155)" stroke-width="0.45" stroke-linecap="round"/><line x1="43.4" y1="48.5" x2="43.4" y2="54.0" stroke="rgb(110,110,110)" stroke-width="0.55" stroke-linecap="round"/><line x1="7.1" y1="44.2" x2="7.1" y2="46.7" stroke="rgb(170,170,170)" stroke-width="0.65" stroke-linecap="round"/><line x1="23.8" y1="5.3" x2="23.8" y2="8.7" stroke="rgb(155,155,155)" stroke-width="0.55" stroke-linecap="round"/><line x1="56.5" y1="9.4" x2="56.5" y2="16.1" stroke="rgb(185,185,185)" stroke-width="0.65" stroke-linecap="round"/><line x1="26.0" y1="21.0" x2="26.0" y2="27.8" stroke="rgb(110,110,110)" stroke-width="0.65" stroke-linecap="round"/><line x1="34.3" y1="40.9" x2="34.3" y2="43.9" stroke="rgb(125,125,125)" stroke-width="0.55" stroke-linecap="round"/><line x1="59.1" y1="63.3" x2="59.1" y2="68.9" stroke="rgb(90,90,90)" stroke-width="0.45" stroke-linecap="round"/><line x1="52.1" y1="10.8" x2="52.1" y2="13.3" stroke="rgb(185,185,185)" stroke-width="0.65" stroke-linecap="round"/><line x1="58.5" y1="26.1" x2="58.5" y2="32.0" stroke="rgb(110,110,110)" stroke-width="0.45" stroke-linecap="round"/><line x1="40.0" y1="21.6" x2="40.0" y2="26.1" stroke="rgb(155,155,155)" stroke-width="0.8" stroke-linecap="round"/><line x1="44.7" y1="40.3" x2="44.7" y2="45.8" stroke="rgb(170,170,170)" stroke-width="0.8" stroke-linecap="round"/><line x1="15.4" y1="43.5" x2="15.4" y2="48.5" stroke="rgb(170,170,170)" stroke-width="0.55" stroke-linecap="round"/><line x1="2.8" y1="13.6" x2="2.8" y2="18.8" stroke="rgb(125,125,125)" stroke-width="0.55" stroke-linecap="round"/><line x1="30.3" y1="76.3" x2="30.3" y2="82.5" stroke="rgb(155,155,155)" stroke-width="0.65" stroke-linecap="round"/><line x1="30.3" y1="-3.7" x2="30.3" y2="2.5" stroke="rgb(155,155,155)" stroke-width="0.65" stroke-linecap="round"/><line x1="2.6" y1="44.5" x2="2.6" y2="50.3" stroke="rgb(155,155,155)" stroke-width="0.55" stroke-linecap="round"/><line x1="7.1" y1="17.4" x2="7.1" y2="24.2" stroke="rgb(90,90,90)" stroke-width="0.8" stroke-linecap="round"/><line x1="25.7" y1="23.1" x2="25.7" y2="25.7" stroke="rgb(155,155,155)" stroke-width="0.55" stroke-linecap="round"/><line x1="15.5" y1="6.9" x2="15.5" y2="9.3" stroke="rgb(110,110,110)" stroke-width="0.45" stroke-linecap="round"/><line x1="0.4" y1="6.6" x2="0.4" y2="12.6" stroke="rgb(170,170,170)" stroke-width="0.8" stroke-linecap="round"/><line x1="33.2" y1="53.1" x2="33.2" y2="57.3" stroke="rgb(110,110,110)" stroke-width="0.45" stroke-linecap="round"/><line x1="4.2" y1="54.6" x2="4.2" y2="58.7" stroke="rgb(70,70,70)" stroke-width="0.45" stroke-linecap="round"/><line x1="20.2" y1="58.1" x2="20.2" y2="64.3" stroke="rgb(155,155,155)" stroke-width="0.45" stroke-linecap="round"/><line x1="2.7" y1="16.9" x2="2.7" y2="19.0" stroke="rgb(185,185,185)" stroke-width="0.65" stroke-linecap="round"/><line x1="37.6" y1="35.3" x2="37.6" y2="38.5" stroke="rgb(70,70,70)" stroke-width="0.65" stroke-linecap="round"/><line x1="12.9" y1="12.6" x2="12.9" y2="16.6" stroke="rgb(170,170,170)" stroke-width="0.65" stroke-linecap="round"/><line x1="58.9" y1="9.2" x2="58.9" y2="14.5" stroke="rgb(125,125,125)" stroke-width="0.65" stroke-linecap="round"/><line x1="5.8" y1="32.5" x2="5.8" y2="37.4" stroke="rgb(125,125,125)" stroke-width="0.55" stroke-linecap="round"/><line x1="27.2" y1="40.8" x2="27.2" y2="46.0" stroke="rgb(170,170,170)" stroke-width="0.55" stroke-linecap="round"/><line x1="31.3" y1="34.1" x2="31.3" y2="37.7" stroke="rgb(90,90,90)" stroke-width="0.55" stroke-linecap="round"/><line x1="47.7" y1="40.0" x2="47.7" y2="42.5" stroke="rgb(110,110,110)" stroke-width="0.8" stroke-linecap="round"/><line x1="31.2" y1="24.7" x2="31.2" y2="29.3" stroke="rgb(125,125,125)" stroke-width="0.65" stroke-linecap="round"/><line x1="31.6" y1="23.6" x2="31.6" y2="26.0" stroke="rgb(90,90,90)" stroke-width="0.8" stroke-linecap="round"/><line x1="48.1" y1="59.2" x2="48.1" y2="65.1" stroke="rgb(70,70,70)" stroke-width="0.45" stroke-linecap="round"/><line x1="1.4" y1="49.7" x2="1.4" y2="52.0" stroke="rgb(185,185,185)" stroke-width="0.45" stroke-linecap="round"/><line x1="2.9" y1="54.0" x2="2.9" y2="57.5" stroke="rgb(185,185,185)" stroke-width="0.8" stroke-linecap="round"/><line x1="18.0" y1="24.4" x2="18.0" y2="27.1" stroke="rgb(90,90,90)" stroke-width="0.8" stroke-linecap="round"/><line x1="57.9" y1="3.5" x2="57.9" y2="10.3" stroke="rgb(125,125,125)" stroke-width="0.55" stroke-linecap="round"/><line x1="5.0" y1="59.6" x2="5.0" y2="64.2" stroke="rgb(110,110,110)" stroke-width="0.55" stroke-linecap="round"/><line x1="5.0" y1="53.9" x2="5.0" y2="58.5" stroke="rgb(70,70,70)" stroke-width="0.8" stroke-linecap="round"/><line x1="4.1" y1="54.1" x2="4.1" y2="60.7" stroke="rgb(170,170,170)" stroke-width="0.65" stroke-linecap="round"/><line x1="33.6" y1="31.3" x2="33.6" y2="35.6" stroke="rgb(70,70,70)" stroke-width="0.65" stroke-linecap="round"/><line x1="18.3" y1="59.0" x2="18.3" y2="62.3" stroke="rgb(185,185,185)" stroke-width="0.65" stroke-linecap="round"/><line x1="12.3" y1="7.8" x2="12.3" y2="11.1" stroke="rgb(185,185,185)" stroke-width="0.8" stroke-linecap="round"/><line x1="28.6" y1="16.2" x2="28.6" y2="19.9" stroke="rgb(70,70,70)" stroke-width="0.55" stroke-linecap="round"/><line x1="59.9" y1="3.9" x2="59.9" y2="7.9" stroke="rgb(170,170,170)" stroke-width="0.55" stroke-linecap="round"/><line x1="-0.1" y1="3.9" x2="-0.1" y2="7.9" stroke="rgb(170,170,170)" stroke-width="0.55" stroke-linecap="round"/><line x1="19.2" y1="52.3" x2="19.2" y2="58.9" stroke="rgb(185,185,185)" stroke-width="0.65" stroke-linecap="round"/><line x1="25.9" y1="33.7" x2="25.9" y2="38.6" stroke="rgb(170,170,170)" stroke-width="0.8" stroke-linecap="round"/><line x1="49.1" y1="29.2" x2="49.1" y2="35.2" stroke="rgb(170,170,170)" stroke-width="0.65" stroke-linecap="round"/><line x1="54.2" y1="31.3" x2="54.2" y2="35.9" stroke="rgb(110,110,110)" stroke-width="0.55" stroke-linecap="round"/><line x1="52.7" y1="61.3" x2="52.7" y2="63.4" stroke="rgb(170,170,170)" stroke-width="0.45" stroke-linecap="round"/><line x1="36.3" y1="32.1" x2="36.3" y2="36.5" stroke="rgb(170,170,170)" stroke-width="0.55" stroke-linecap="round"/><line x1="28.5" y1="4.7" x2="28.5" y2="9.5" stroke="rgb(110,110,110)" stroke-width="0.45" stroke-linecap="round"/><line x1="11.7" y1="71.3" x2="11.7" y2="77.3" stroke="rgb(90,90,90)" stroke-width="0.55" stroke-linecap="round"/><line x1="23.8" y1="41.0" x2="23.8" y2="43.6" stroke="rgb(90,90,90)" stroke-width="0.55" stroke-linecap="round"/><line x1="56.8" y1="23.4" x2="56.8" y2="29.7" stroke="rgb(170,170,170)" stroke-width="0.8" stroke-linecap="round"/><line x1="59.5" y1="12.6" x2="59.5" y2="18.1" stroke="rgb(170,170,170)" stroke-width="0.8" stroke-linecap="round"/><line x1="-0.5" y1="12.6" x2="-0.5" y2="18.1" stroke="rgb(170,170,170)" stroke-width="0.8" stroke-linecap="round"/><line x1="18.9" y1="35.4" x2="18.9" y2="42.1" stroke="rgb(140,140,140)" stroke-width="0.45" stroke-linecap="round"/><line x1="35.4" y1="27.4" x2="35.4" y2="32.2" stroke="rgb(125,125,125)" stroke-width="0.45" stroke-linecap="round"/><line x1="16.9" y1="6.9" x2="16.9" y2="13.3" stroke="rgb(125,125,125)" stroke-width="0.55" stroke-linecap="round"/><line x1="52.3" y1="26.7" x2="52.3" y2="32.4" stroke="rgb(90,90,90)" stroke-width="0.65" stroke-linecap="round"/><line x1="33.5" y1="61.9" x2="33.5" y2="68.1" stroke="rgb(125,125,125)" stroke-width="0.8" stroke-linecap="round"/><line x1="0.1" y1="51.6" x2="0.1" y2="57.6" stroke="rgb(125,125,125)" stroke-width="0.55" stroke-linecap="round"/><line x1="45.2" y1="65.6" x2="45.2" y2="67.9" stroke="rgb(140,140,140)" stroke-width="0.65" stroke-linecap="round"/><line x1="12.2" y1="12.4" x2="12.2" y2="19.2" stroke="rgb(125,125,125)" stroke-width="0.45" stroke-linecap="round"/><line x1="27.3" y1="20.1" x2="27.3" y2="24.8" stroke="rgb(170,170,170)" stroke-width="0.65" stroke-linecap="round"/><line x1="34.7" y1="66.3" x2="34.7" y2="70.9" stroke="rgb(185,185,185)" stroke-width="0.55" stroke-linecap="round"/><line x1="18.7" y1="53.2" x2="18.7" y2="55.7" stroke="rgb(170,170,170)" stroke-width="0.65" stroke-linecap="round"/><line x1="47.7" y1="62.3" x2="47.7" y2="65.5" stroke="rgb(90,90,90)" stroke-width="0.45" stroke-linecap="round"/><line x1="1.5" y1="69.7" x2="1.5" y2="73.4" stroke="rgb(110,110,110)" stroke-width="0.55" stroke-linecap="round"/><line x1="19.7" y1="9.1" x2="19.7" y2="12.7" stroke="rgb(90,90,90)" stroke-width="0.8" stroke-linecap="round"/><line x1="53.5" y1="44.5" x2="53.5" y2="46.6" stroke="rgb(185,185,185)" stroke-width="0.8" stroke-linecap="round"/><line x1="59.9" y1="13.5" x2="59.9" y2="15.5" stroke="rgb(110,110,110)" stroke-width="0.65" stroke-linecap="round"/><line x1="-0.1" y1="13.5" x2="-0.1" y2="15.5" stroke="rgb(110,110,110)" stroke-width="0.65" stroke-linecap="round"/><line x1="50.9" y1="38.3" x2="50.9" y2="42.3" stroke="rgb(125,125,125)" stroke-width="0.8" stroke-linecap="round"/><line x1="22.5" y1="28.9" x2="22.5" y2="32.8" stroke="rgb(70,70,70)" stroke-width="0.65" stroke-linecap="round"/><line x1="28.7" y1="39.7" x2="28.7" y2="43.9" stroke="rgb(185,185,185)" stroke-width="0.45" stroke-linecap="round"/><line x1="42.9" y1="14.9" x2="42.9" y2="21.8" stroke="rgb(90,90,90)" stroke-width="0.55" stroke-linecap="round"/><line x1="10.5" y1="63.6" x2="10.5" y2="66.9" stroke="rgb(90,90,90)" stroke-width="0.65" stroke-linecap="round"/><line x1="32.4" y1="67.1" x2="32.4" y2="73.3" stroke="rgb(70,70,70)" stroke-width="0.45" stroke-linecap="round"/><line x1="59.0" y1="13.2" x2="59.0" y2="18.4" stroke="rgb(185,185,185)" stroke-width="0.65" stroke-linecap="round"/><line x1="44.6" y1="63.7" x2="44.6" y2="70.7" stroke="rgb(170,170,170)" stroke-width="0.45" stroke-linecap="round"/><line x1="6.5" y1="61.1" x2="6.5" y2="66.4" stroke="rgb(125,125,125)" stroke-width="0.45" stroke-linecap="round"/><line x1="16.8" y1="53.0" x2="16.8" y2="55.1" stroke="rgb(125,125,125)" stroke-width="0.45" stroke-linecap="round"/><line x1="42.9" y1="3.0" x2="42.9" y2="7.6" stroke="rgb(125,125,125)" stroke-width="0.65" stroke-linecap="round"/><line x1="42.3" y1="59.5" x2="42.3" y2="64.6" stroke="rgb(155,155,155)" stroke-width="0.45" stroke-linecap="round"/><line x1="51.6" y1="56.2" x2="51.6" y2="61.4" stroke="rgb(70,70,70)" stroke-width="0.55" stroke-linecap="round"/><line x1="45.3" y1="34.8" x2="45.3" y2="40.3" stroke="rgb(155,155,155)" stroke-width="0.8" stroke-linecap="round"/><line x1="31.2" y1="32.8" x2="31.2" y2="37.2" stroke="rgb(140,140,140)" stroke-width="0.65" stroke-linecap="round"/><line x1="4.7" y1="60.7" x2="4.7" y2="65.4" stroke="rgb(155,155,155)" stroke-width="0.8" stroke-linecap="round"/><line x1="48.4" y1="19.3" x2="48.4" y2="25.9" stroke="rgb(155,155,155)" stroke-width="0.65" stroke-linecap="round"/><line x1="20.2" y1="61.3" x2="20.2" y2="67.2" stroke="rgb(140,140,140)" stroke-width="0.65" stroke-linecap="round"/><line x1="4.4" y1="74.2" x2="4.4" y2="79.9" stroke="rgb(185,185,185)" stroke-width="0.8" stroke-linecap="round"/><line x1="57.9" y1="40.8" x2="57.9" y2="46.9" stroke="rgb(90,90,90)" stroke-width="0.65" stroke-linecap="round"/><line x1="0.5" y1="58.7" x2="0.5" y2="62.9" stroke="rgb(70,70,70)" stroke-width="0.8" stroke-linecap="round"/><line x1="31.8" y1="66.0" x2="31.8" y2="69.3" stroke="rgb(185,185,185)" stroke-width="0.8" stroke-linecap="round"/><line x1="46.6" y1="59.4" x2="46.6" y2="65.6" stroke="rgb(140,140,140)" stroke-width="0.45" stroke-linecap="round"/><line x1="50.9" y1="5.8" x2="50.9" y2="10.2" stroke="rgb(185,185,185)" stroke-width="0.8" stroke-linecap="round"/><line x1="42.7" y1="16.2" x2="42.7" y2="19.5" stroke="rgb(110,110,110)" stroke-width="0.65" stroke-linecap="round"/><line x1="0.0" y1="14.2" x2="0.0" y2="17.2" stroke="rgb(125,125,125)" stroke-width="0.8" stroke-linecap="round"/><line x1="40.5" y1="9.5" x2="40.5" y2="13.3" stroke="rgb(125,125,125)" stroke-width="0.45" stroke-linecap="round"/><line x1="0.1" y1="35.2" x2="0.1" y2="39.6" stroke="rgb(70,70,70)" stroke-width="0.65" stroke-linecap="round"/><line x1="47.0" y1="14.3" x2="47.0" y2="18.6" stroke="rgb(185,185,185)" stroke-width="0.65" stroke-linecap="round"/><line x1="51.6" y1="41.5" x2="51.6" y2="45.2" stroke="rgb(90,90,90)" stroke-width="0.55" stroke-linecap="round"/><line x1="33.2" y1="29.1" x2="33.2" y2="33.8" stroke="rgb(155,155,155)" stroke-width="0.45" stroke-linecap="round"/><line x1="10.7" y1="37.9" x2="10.7" y2="41.5" stroke="rgb(110,110,110)" stroke-width="0.65" stroke-linecap="round"/><line x1="34.8" y1="19.1" x2="34.8" y2="24.6" stroke="rgb(70,70,70)" stroke-width="0.45" stroke-linecap="round"/><line x1="45.1" y1="18.3" x2="45.1" y2="25.3" stroke="rgb(110,110,110)" stroke-width="0.65" stroke-linecap="round"/><line x1="33.6" y1="28.0" x2="33.6" y2="33.9" stroke="rgb(155,155,155)" stroke-width="0.8" stroke-linecap="round"/><line x1="8.9" y1="34.3" x2="8.9" y2="39.8" stroke="rgb(70,70,70)" stroke-width="0.8" stroke-linecap="round"/><line x1="55.3" y1="67.3" x2="55.3" y2="74.0" stroke="rgb(90,90,90)" stroke-width="0.65" stroke-linecap="round"/><line x1="25.1" y1="29.2" x2="25.1" y2="31.2" stroke="rgb(90,90,90)" stroke-width="0.8" stroke-linecap="round"/><line x1="44.6" y1="31.7" x2="44.6" y2="38.1" stroke="rgb(125,125,125)" stroke-width="0.45" stroke-linecap="round"/><line x1="50.7" y1="3.4" x2="50.7" y2="6.7" stroke="rgb(155,155,155)" stroke-width="0.55" stroke-linecap="round"/><line x1="25.8" y1="53.6" x2="25.8" y2="60.0" stroke="rgb(70,70,70)" stroke-width="0.55" stroke-linecap="round"/><line x1="41.8" y1="28.5" x2="41.8" y2="33.1" stroke="rgb(170,170,170)" stroke-width="0.65" stroke-linecap="round"/><line x1="41.6" y1="23.0" x2="41.6" y2="25.8" stroke="rgb(155,155,155)" stroke-width="0.45" stroke-linecap="round"/><line x1="14.7" y1="12.6" x2="14.7" y2="15.9" stroke="rgb(110,110,110)" stroke-width="0.8" stroke-linecap="round"/><line x1="58.8" y1="60.7" x2="58.8" y2="65.4" stroke="rgb(185,185,185)" stroke-width="0.55" stroke-linecap="round"/><line x1="45.1" y1="32.4" x2="45.1" y2="35.7" stroke="rgb(170,170,170)" stroke-width="0.8" stroke-linecap="round"/><line x1="5.5" y1="30.2" x2="5.5" y2="32.7" stroke="rgb(155,155,155)" stroke-width="0.65" stroke-linecap="round"/><line x1="15.6" y1="67.2" x2="15.6" y2="72.7" stroke="rgb(170,170,170)" stroke-width="0.8" stroke-linecap="round"/><line x1="9.2" y1="27.5" x2="9.2" y2="29.9" stroke="rgb(155,155,155)" stroke-width="0.65" stroke-linecap="round"/><line x1="43.6" y1="15.5" x2="43.6" y2="20.9" stroke="rgb(170,170,170)" stroke-width="0.55" stroke-linecap="round"/><line x1="39.1" y1="17.3" x2="39.1" y2="20.4" stroke="rgb(140,140,140)" stroke-width="0.8" stroke-linecap="round"/><line x1="14.8" y1="72.2" x2="14.8" y2="74.8" stroke="rgb(90,90,90)" stroke-width="0.45" stroke-linecap="round"/><line x1="39.4" y1="46.4" x2="39.4" y2="52.6" stroke="rgb(70,70,70)" stroke-width="0.65" stroke-linecap="round"/><line x1="18.7" y1="28.5" x2="18.7" y2="34.3" stroke="rgb(110,110,110)" stroke-width="0.65" stroke-linecap="round"/><line x1="54.7" y1="13.8" x2="54.7" y2="20.8" stroke="rgb(170,170,170)" stroke-width="0.65" stroke-linecap="round"/><line x1="31.4" y1="12.9" x2="31.4" y2="19.2" stroke="rgb(185,185,185)" stroke-width="0.45" stroke-linecap="round"/><line x1="11.6" y1="28.4" x2="11.6" y2="35.3" stroke="rgb(185,185,185)" stroke-width="0.45" stroke-linecap="round"/><line x1="33.5" y1="34.6" x2="33.5" y2="37.2" stroke="rgb(170,170,170)" stroke-width="0.65" stroke-linecap="round"/><line x1="24.7" y1="24.1" x2="24.7" y2="29.3" stroke="rgb(170,170,170)" stroke-width="0.45" stroke-linecap="round"/><line x1="27.9" y1="15.6" x2="27.9" y2="21.0" stroke="rgb(185,185,185)" stroke-width="0.45" stroke-linecap="round"/><line x1="15.9" y1="5.5" x2="15.9" y2="8.6" stroke="rgb(155,155,155)" stroke-width="0.65" stroke-linecap="round"/><line x1="45.5" y1="66.0" x2="45.5" y2="70.9" stroke="rgb(155,155,155)" stroke-width="0.8" stroke-linecap="round"/><line x1="2.9" y1="6.0" x2="2.9" y2="10.9" stroke="rgb(110,110,110)" stroke-width="0.55" stroke-linecap="round"/><line x1="37.5" y1="52.3" x2="37.5" y2="54.9" stroke="rgb(155,155,155)" stroke-width="0.55" stroke-linecap="round"/><line x1="32.0" y1="6.9" x2="32.0" y2="10.9" stroke="rgb(185,185,185)" stroke-width="0.45" stroke-linecap="round"/><line x1="53.9" y1="65.6" x2="53.9" y2="68.6" stroke="rgb(170,170,170)" stroke-width="0.55" stroke-linecap="round"/><line x1="6.5" y1="7.1" x2="6.5" y2="9.4" stroke="rgb(140,140,140)" stroke-width="0.55" stroke-linecap="round"/><line x1="11.0" y1="14.7" x2="11.0" y2="20.2" stroke="rgb(90,90,90)" stroke-width="0.8" stroke-linecap="round"/><line x1="30.0" y1="12.3" x2="30.0" y2="15.5" stroke="rgb(185,185,185)" stroke-width="0.65" stroke-linecap="round"/><line x1="24.3" y1="53.8" x2="24.3" y2="60.2" stroke="rgb(125,125,125)" stroke-width="0.65" stroke-linecap="round"/><line x1="49.3" y1="28.3" x2="49.3" y2="30.7" stroke="rgb(110,110,110)" stroke-width="0.55" stroke-linecap="round"/><line x1="37.6" y1="2.1" x2="37.6" y2="4.6" stroke="rgb(125,125,125)" stroke-width="0.45" stroke-linecap="round"/><line x1="51.4" y1="67.0" x2="51.4" y2="71.8" stroke="rgb(155,155,155)" stroke-width="0.55" stroke-linecap="round"/><line x1="33.4" y1="34.1" x2="33.4" y2="36.2" stroke="rgb(90,90,90)" stroke-width="0.8" stroke-linecap="round"/><line x1="15.0" y1="36.9" x2="15.0" y2="39.5" stroke="rgb(110,110,110)" stroke-width="0.55" stroke-linecap="round"/><line x1="39.7" y1="70.5" x2="39.7" y2="75.2" stroke="rgb(90,90,90)" stroke-width="0.55" stroke-linecap="round"/><line x1="28.1" y1="69.2" x2="28.1" y2="75.6" stroke="rgb(170,170,170)" stroke-width="0.45" stroke-linecap="round"/><line x1="36.1" y1="9.1" x2="36.1" y2="12.3" stroke="rgb(170,170,170)" stroke-width="0.55" stroke-linecap="round"/><line x1="5.3" y1="74.3" x2="5.3" y2="76.4" stroke="rgb(110,110,110)" stroke-width="0.55" stroke-linecap="round"/><line x1="19.4" y1="48.6" x2="19.4" y2="55.1" stroke="rgb(155,155,155)" stroke-width="0.8" stroke-linecap="round"/><line x1="54.9" y1="36.7" x2="54.9" y2="39.1" stroke="rgb(90,90,90)" stroke-width="0.65" stroke-linecap="round"/><line x1="35.5" y1="5.0" x2="35.5" y2="11.7" stroke="rgb(155,155,155)" stroke-width="0.45" stroke-linecap="round"/><line x1="4.1" y1="20.7" x2="4.1" y2="22.9" stroke="rgb(140,140,140)" stroke-width="0.8" stroke-linecap="round"/><line x1="37.9" y1="68.3" x2="37.9" y2="74.4" stroke="rgb(170,170,170)" stroke-width="0.45" stroke-linecap="round"/><line x1="15.1" y1="12.5" x2="15.1" y2="17.2" stroke="rgb(125,125,125)" stroke-width="0.45" stroke-linecap="round"/><line x1="19.2" y1="46.3" x2="19.2" y2="51.1" stroke="rgb(170,170,170)" stroke-width="0.55" stroke-linecap="round"/><line x1="23.4" y1="6.6" x2="23.4" y2="11.5" stroke="rgb(185,185,185)" stroke-width="0.45" stroke-linecap="round"/><line x1="23.3" y1="76.9" x2="23.3" y2="82.0" stroke="rgb(155,155,155)" stroke-width="0.55" stroke-linecap="round"/><line x1="23.3" y1="-3.1" x2="23.3" y2="2.0" stroke="rgb(155,155,155)" stroke-width="0.55" stroke-linecap="round"/><line x1="11.7" y1="41.4" x2="11.7" y2="46.3" stroke="rgb(185,185,185)" stroke-width="0.65" stroke-linecap="round"/><line x1="47.7" y1="65.0" x2="47.7" y2="67.7" stroke="rgb(70,70,70)" stroke-width="0.55" stroke-linecap="round"/><line x1="10.3" y1="78.1" x2="10.3" y2="81.9" stroke="rgb(170,170,170)" stroke-width="0.8" stroke-linecap="round"/><line x1="10.3" y1="-1.9" x2="10.3" y2="1.9" stroke="rgb(170,170,170)" stroke-width="0.8" stroke-linecap="round"/><line x1="44.6" y1="41.1" x2="44.6" y2="44.6" stroke="rgb(170,170,170)" stroke-width="0.8" stroke-linecap="round"/><line x1="47.4" y1="24.3" x2="47.4" y2="29.8" stroke="rgb(155,155,155)" stroke-width="0.45" stroke-linecap="round"/><line x1="4.8" y1="77.4" x2="4.8" y2="82.4" stroke="rgb(140,140,140)" stroke-width="0.8" stroke-linecap="round"/><line x1="4.8" y1="-2.6" x2="4.8" y2="2.4" stroke="rgb(140,140,140)" stroke-width="0.8" stroke-linecap="round"/><line x1="17.8" y1="79.9" x2="17.8" y2="84.2" stroke="rgb(185,185,185)" stroke-width="0.55" stroke-linecap="round"/><line x1="17.8" y1="-0.1" x2="17.8" y2="4.2" stroke="rgb(185,185,185)" stroke-width="0.55" stroke-linecap="round"/><line x1="52.0" y1="46.7" x2="52.0" y2="52.3" stroke="rgb(125,125,125)" stroke-width="0.8" stroke-linecap="round"/><line x1="17.9" y1="59.0" x2="17.9" y2="63.9" stroke="rgb(140,140,140)" stroke-width="0.65" stroke-linecap="round"/><line x1="4.4" y1="47.4" x2="4.4" y2="50.3" stroke="rgb(70,70,70)" stroke-width="0.45" stroke-linecap="round"/><line x1="28.7" y1="41.6" x2="28.7" y2="46.6" stroke="rgb(170,170,170)" stroke-width="0.8" stroke-linecap="round"/><line x1="47.0" y1="12.3" x2="47.0" y2="14.3" stroke="rgb(170,170,170)" stroke-width="0.8" stroke-linecap="round"/><line x1="6.3" y1="14.2" x2="6.3" y2="19.7" stroke="rgb(110,110,110)" stroke-width="0.65" stroke-linecap="round"/><line x1="6.8" y1="45.6" x2="6.8" y2="52.1" stroke="rgb(155,155,155)" stroke-width="0.45" stroke-linecap="round"/><line x1="18.6" y1="51.2" x2="18.6" y2="56.5" stroke="rgb(140,140,140)" stroke-width="0.8" stroke-linecap="round"/><line x1="19.8" y1="0.2" x2="19.8" y2="4.1" stroke="rgb(70,70,70)" stroke-width="0.65" stroke-linecap="round"/><line x1="56.5" y1="0.6" x2="56.5" y2="3.9" stroke="rgb(155,155,155)" stroke-width="0.8" stroke-linecap="round"/><line x1="4.2" y1="50.4" x2="4.2" y2="52.4" stroke="rgb(70,70,70)" stroke-width="0.65" stroke-linecap="round"/><line x1="27.1" y1="77.5" x2="27.1" y2="82.2" stroke="rgb(170,170,170)" stroke-width="0.55" stroke-linecap="round"/><line x1="27.1" y1="-2.5" x2="27.1" y2="2.2" stroke="rgb(170,170,170)" stroke-width="0.55" stroke-linecap="round"/><line x1="9.1" y1="60.6" x2="9.1" y2="63.1" stroke="rgb(90,90,90)" stroke-width="0.45" stroke-linecap="round"/><line x1="14.8" y1="1.5" x2="14.8" y2="6.9" stroke="rgb(155,155,155)" stroke-width="0.8" stroke-linecap="round"/><line x1="47.4" y1="3.7" x2="47.4" y2="6.9" stroke="rgb(90,90,90)" stroke-width="0.65" stroke-linecap="round"/><line x1="6.7" y1="52.3" x2="6.7" y2="57.9" stroke="rgb(170,170,170)" stroke-width="0.55" stroke-linecap="round"/><line x1="50.2" y1="66.3" x2="50.2" y2="69.1" stroke="rgb(155,155,155)" stroke-width="0.65" stroke-linecap="round"/><line x1="33.4" y1="71.9" x2="33.4" y2="78.4" stroke="rgb(110,110,110)" stroke-width="0.8" stroke-linecap="round"/><line x1="5.1" y1="67.0" x2="5.1" y2="70.7" stroke="rgb(90,90,90)" stroke-width="0.55" stroke-linecap="round"/><line x1="28.2" y1="24.4" x2="28.2" y2="28.7" stroke="rgb(140,140,140)" stroke-width="0.45" stroke-linecap="round"/><line x1="23.8" y1="15.3" x2="23.8" y2="21.4" stroke="rgb(125,125,125)" stroke-width="0.65" stroke-linecap="round"/><line x1="19.0" y1="51.4" x2="19.0" y2="54.3" stroke="rgb(90,90,90)" stroke-width="0.55" stroke-linecap="round"/><line x1="11.8" y1="50.8" x2="11.8" y2="54.4" stroke="rgb(125,125,125)" stroke-width="0.45" stroke-linecap="round"/><line x1="40.0" y1="13.9" x2="40.0" y2="19.5" stroke="rgb(125,125,125)" stroke-width="0.65" stroke-linecap="round"/><line x1="55.8" y1="3.8" x2="55.8" y2="8.1" stroke="rgb(155,155,155)" stroke-width="0.65" stroke-linecap="round"/><line x1="32.2" y1="26.9" x2="32.2" y2="31.8" stroke="rgb(90,90,90)" stroke-width="0.65" stroke-linecap="round"/><line x1="42.4" y1="15.6" x2="42.4" y2="21.0" stroke="rgb(185,185,185)" stroke-width="0.55" stroke-linecap="round"/><line x1="34.0" y1="24.4" x2="34.0" y2="27.4" stroke="rgb(155,155,155)" stroke-width="0.45" stroke-linecap="round"/><line x1="28.6" y1="9.3" x2="28.6" y2="13.8" stroke="rgb(110,110,110)" stroke-width="0.65" stroke-linecap="round"/><line x1="39.8" y1="4.0" x2="39.8" y2="6.3" stroke="rgb(140,140,140)" stroke-width="0.45" stroke-linecap="round"/><line x1="54.7" y1="24.4" x2="54.7" y2="30.8" stroke="rgb(110,110,110)" stroke-width="0.8" stroke-linecap="round"/><line x1="40.6" y1="79.3" x2="40.6" y2="82.9" stroke="rgb(155,155,155)" stroke-width="0.55" stroke-linecap="round"/><line x1="40.6" y1="-0.7" x2="40.6" y2="2.9" stroke="rgb(155,155,155)" stroke-width="0.55" stroke-linecap="round"/><line x1="42.0" y1="70.1" x2="42.0" y2="74.2" stroke="rgb(90,90,90)" stroke-width="0.8" stroke-linecap="round"/><line x1="14.0" y1="78.3" x2="14.0" y2="81.0" stroke="rgb(90,90,90)" stroke-width="0.55" stroke-linecap="round"/><line x1="14.0" y1="-1.7" x2="14.0" y2="1.0" stroke="rgb(90,90,90)" stroke-width="0.55" stroke-linecap="round"/><line x1="30.9" y1="39.0" x2="30.9" y2="42.3" stroke="rgb(155,155,155)" stroke-width="0.65" stroke-linecap="round"/><line x1="12.5" y1="31.9" x2="12.5" y2="37.6" stroke="rgb(70,70,70)" stroke-width="0.45" stroke-linecap="round"/><line x1="39.8" y1="7.1" x2="39.8" y2="11.7" stroke="rgb(110,110,110)" stroke-width="0.55" stroke-linecap="round"/><line x1="51.1" y1="36.2" x2="51.1" y2="39.6" stroke="rgb(170,170,170)" stroke-width="0.45" stroke-linecap="round"/><line x1="23.6" y1="0.9" x2="23.6" y2="7.0" stroke="rgb(140,140,140)" stroke-width="0.65" stroke-linecap="round"/><line x1="39.5" y1="20.4" x2="39.5" y2="27.0" stroke="rgb(155,155,155)" stroke-width="0.45" stroke-linecap="round"/><line x1="13.3" y1="6.3" x2="13.3" y2="8.9" stroke="rgb(125,125,125)" stroke-width="0.45" stroke-linecap="round"/><line x1="25.0" y1="35.4" x2="25.0" y2="42.2" stroke="rgb(185,185,185)" stroke-width="0.55" stroke-linecap="round"/><line x1="5.5" y1="61.4" x2="5.5" y2="66.6" stroke="rgb(155,155,155)" stroke-width="0.45" stroke-linecap="round"/><line x1="12.8" y1="19.3" x2="12.8" y2="25.0" stroke="rgb(185,185,185)" stroke-width="0.8" stroke-linecap="round"/><line x1="38.8" y1="51.1" x2="38.8" y2="56.9" stroke="rgb(185,185,185)" stroke-width="0.8" stroke-linecap="round"/><line x1="41.0" y1="13.4" x2="41.0" y2="17.1" stroke="rgb(90,90,90)" stroke-width="0.65" stroke-linecap="round"/><line x1="49.4" y1="20.1" x2="49.4" y2="24.8" stroke="rgb(155,155,155)" stroke-width="0.65" stroke-linecap="round"/><line x1="35.6" y1="2.3" x2="35.6" y2="7.1" stroke="rgb(110,110,110)" stroke-width="0.45" stroke-linecap="round"/><line x1="17.6" y1="66.1" x2="17.6" y2="70.3" stroke="rgb(90,90,90)" stroke-width="0.65" stroke-linecap="round"/><line x1="17.8" y1="28.6" x2="17.8" y2="32.0" stroke="rgb(125,125,125)" stroke-width="0.65" stroke-linecap="round"/><line x1="9.3" y1="19.2" x2="9.3" y2="22.2" stroke="rgb(155,155,155)" stroke-width="0.45" stroke-linecap="round"/><line x1="38.3" y1="1.8" x2="38.3" y2="6.2" stroke="rgb(170,170,170)" stroke-width="0.65" stroke-linecap="round"/><line x1="39.7" y1="66.1" x2="39.7" y2="70.1" stroke="rgb(170,170,170)" stroke-width="0.65" stroke-linecap="round"/><line x1="22.1" y1="56.9" x2="22.1" y2="61.8" stroke="rgb(170,170,170)" stroke-width="0.45" stroke-linecap="round"/><line x1="11.0" y1="19.9" x2="11.0" y2="26.0" stroke="rgb(155,155,155)" stroke-width="0.45" stroke-linecap="round"/><line x1="11.5" y1="22.8" x2="11.5" y2="27.4" stroke="rgb(170,170,170)" stroke-width="0.65" stroke-linecap="round"/><line x1="21.1" y1="25.8" x2="21.1" y2="28.9" stroke="rgb(70,70,70)" stroke-width="0.8" stroke-linecap="round"/><line x1="5.3" y1="47.2" x2="5.3" y2="50.8" stroke="rgb(170,170,170)" stroke-width="0.45" stroke-linecap="round"/><line x1="7.9" y1="55.7" x2="7.9" y2="59.4" stroke="rgb(90,90,90)" stroke-width="0.55" stroke-linecap="round"/><line x1="52.5" y1="72.7" x2="52.5" y2="78.6" stroke="rgb(125,125,125)" stroke-width="0.55" stroke-linecap="round"/><line x1="40.6" y1="52.2" x2="40.6" y2="58.5" stroke="rgb(185,185,185)" stroke-width="0.65" stroke-linecap="round"/><line x1="54.3" y1="53.5" x2="54.3" y2="57.1" stroke="rgb(140,140,140)" stroke-width="0.65" stroke-linecap="round"/><line x1="38.2" y1="62.7" x2="38.2" y2="66.5" stroke="rgb(125,125,125)" stroke-width="0.65" stroke-linecap="round"/><line x1="48.5" y1="10.2" x2="48.5" y2="16.7" stroke="rgb(140,140,140)" stroke-width="0.55" stroke-linecap="round"/><line x1="25.1" y1="28.8" x2="25.1" y2="35.2" stroke="rgb(185,185,185)" stroke-width="0.45" stroke-linecap="round"/><line x1="4.9" y1="1.2" x2="4.9" y2="6.5" stroke="rgb(185,185,185)" stroke-width="0.8" stroke-linecap="round"/><line x1="21.4" y1="74.0" x2="21.4" y2="77.8" stroke="rgb(140,140,140)" stroke-width="0.55" stroke-linecap="round"/><line x1="49.5" y1="9.6" x2="49.5" y2="12.0" stroke="rgb(140,140,140)" stroke-width="0.65" stroke-linecap="round"/><line x1="27.1" y1="37.0" x2="27.1" y2="43.6" stroke="rgb(155,155,155)" stroke-width="0.45" stroke-linecap="round"/><line x1="46.2" y1="0.0" x2="46.2" y2="6.3" stroke="rgb(140,140,140)" stroke-width="0.8" stroke-linecap="round"/><line x1="18.2" y1="59.9" x2="18.2" y2="63.8" stroke="rgb(155,155,155)" stroke-width="0.8" stroke-linecap="round"/><line x1="49.9" y1="62.2" x2="49.9" y2="65.2" stroke="rgb(185,185,185)" stroke-width="0.55" stroke-linecap="round"/><line x1="51.2" y1="40.2" x2="51.2" y2="46.2" stroke="rgb(125,125,125)" stroke-width="0.55" stroke-linecap="round"/><line x1="59.9" y1="5.4" x2="59.9" y2="10.9" stroke="rgb(185,185,185)" stroke-width="0.65" stroke-linecap="round"/><line x1="-0.1" y1="5.4" x2="-0.1" y2="10.9" stroke="rgb(185,185,185)" stroke-width="0.65" stroke-linecap="round"/><line x1="39.4" y1="10.6" x2="39.4" y2="16.8" stroke="rgb(90,90,90)" stroke-width="0.8" stroke-linecap="round"/><line x1="39.1" y1="56.0" x2="39.1" y2="59.5" stroke="rgb(70,70,70)" stroke-width="0.8" stroke-linecap="round"/><line x1="5.4" y1="20.8" x2="5.4" y2="27.7" stroke="rgb(170,170,170)" stroke-width="0.45" stroke-linecap="round"/><line x1="45.0" y1="10.7" x2="45.0" y2="14.6" stroke="rgb(70,70,70)" stroke-width="0.45" stroke-linecap="round"/><line x1="42.7" y1="61.1" x2="42.7" y2="67.6" stroke="rgb(170,170,170)" stroke-width="0.65" stroke-linecap="round"/><line x1="2.0" y1="25.0" x2="2.0" y2="27.1" stroke="rgb(140,140,140)" stroke-width="0.65" stroke-linecap="round"/><line x1="16.5" y1="19.8" x2="16.5" y2="22.3" stroke="rgb(155,155,155)" stroke-width="0.45" stroke-linecap="round"/><line x1="28.5" y1="44.3" x2="28.5" y2="48.2" stroke="rgb(185,185,185)" stroke-width="0.45" stroke-linecap="round"/><line x1="48.8" y1="0.2" x2="48.8" y2="6.7" stroke="rgb(155,155,155)" stroke-width="0.65" stroke-linecap="round"/><line x1="24.2" y1="59.7" x2="24.2" y2="63.2" stroke="rgb(140,140,140)" stroke-width="0.55" stroke-linecap="round"/><line x1="50.5" y1="42.3" x2="50.5" y2="44.8" stroke="rgb(155,155,155)" stroke-width="0.55" stroke-linecap="round"/><line x1="22.3" y1="47.4" x2="22.3" y2="53.6" stroke="rgb(155,155,155)" stroke-width="0.55" stroke-linecap="round"/><line x1="18.2" y1="69.6" x2="18.2" y2="76.3" stroke="rgb(110,110,110)" stroke-width="0.45" stroke-linecap="round"/><line x1="56.8" y1="61.1" x2="56.8" y2="65.8" stroke="rgb(170,170,170)" stroke-width="0.45" stroke-linecap="round"/><line x1="57.4" y1="4.4" x2="57.4" y2="9.9" stroke="rgb(185,185,185)" stroke-width="0.8" stroke-linecap="round"/><line x1="39.0" y1="28.0" x2="39.0" y2="31.2" stroke="rgb(170,170,170)" stroke-width="0.45" stroke-linecap="round"/><line x1="44.7" y1="64.9" x2="44.7" y2="68.8" stroke="rgb(125,125,125)" stroke-width="0.8" stroke-linecap="round"/><line x1="28.5" y1="60.7" x2="28.5" y2="64.5" stroke="rgb(155,155,155)" stroke-width="0.45" stroke-linecap="round"/><line x1="46.8" y1="27.3" x2="46.8" y2="29.9" stroke="rgb(185,185,185)" stroke-width="0.55" stroke-linecap="round"/><line x1="16.1" y1="25.8" x2="16.1" y2="29.6" stroke="rgb(170,170,170)" stroke-width="0.8" stroke-linecap="round"/><line x1="39.8" y1="72.5" x2="39.8" y2="77.5" stroke="rgb(110,110,110)" stroke-width="0.8" stroke-linecap="round"/><line x1="57.2" y1="60.1" x2="57.2" y2="64.9" stroke="rgb(185,185,185)" stroke-width="0.65" stroke-linecap="round"/><line x1="1.2" y1="35.3" x2="1.2" y2="40.0" stroke="rgb(90,90,90)" stroke-width="0.45" stroke-linecap="round"/><line x1="6.8" y1="67.4" x2="6.8" y2="71.8" stroke="rgb(140,140,140)" stroke-width="0.65" stroke-linecap="round"/><line x1="48.7" y1="45.1" x2="48.7" y2="47.6" stroke="rgb(185,185,185)" stroke-width="0.8" stroke-linecap="round"/><line x1="32.6" y1="62.6" x2="32.6" y2="68.7" stroke="rgb(140,140,140)" stroke-width="0.8" stroke-linecap="round"/><line x1="57.2" y1="46.0" x2="57.2" y2="48.0" stroke="rgb(125,125,125)" stroke-width="0.55" stroke-linecap="round"/><line x1="39.1" y1="34.0" x2="39.1" y2="40.6" stroke="rgb(185,185,185)" stroke-width="0.55" stroke-linecap="round"/><line x1="18.9" y1="23.1" x2="18.9" y2="26.9" stroke="rgb(125,125,125)" stroke-width="0.55" stroke-linecap="round"/><line x1="15.8" y1="40.1" x2="15.8" y2="47.0" stroke="rgb(90,90,90)" stroke-width="0.45" stroke-linecap="round"/><line x1="36.4" y1="31.1" x2="36.4" y2="37.1" stroke="rgb(125,125,125)" stroke-width="0.8" stroke-linecap="round"/><line x1="48.5" y1="3.2" x2="48.5" y2="8.6" stroke="rgb(125,125,125)" stroke-width="0.45" stroke-linecap="round"/><line x1="36.8" y1="69.3" x2="36.8" y2="74.0" stroke="rgb(90,90,90)" stroke-width="0.45" stroke-linecap="round"/><line x1="17.1" y1="74.6" x2="17.1" y2="78.3" stroke="rgb(185,185,185)" stroke-width="0.45" stroke-linecap="round"/><line x1="47.4" y1="37.6" x2="47.4" y2="42.2" stroke="rgb(90,90,90)" stroke-width="0.55" stroke-linecap="round"/><line x1="2.4" y1="17.3" x2="2.4" y2="22.3" stroke="rgb(170,170,170)" stroke-width="0.45" stroke-linecap="round"/><line x1="59.5" y1="51.3" x2="59.5" y2="53.5" stroke="rgb(185,185,185)" stroke-width="0.45" stroke-linecap="round"/><line x1="16.4" y1="18.0" x2="16.4" y2="23.2" stroke="rgb(155,155,155)" stroke-width="0.8" stroke-linecap="round"/><line x1="40.4" y1="36.5" x2="40.4" y2="42.1" stroke="rgb(155,155,155)" stroke-width="0.8" stroke-linecap="round"/><line x1="42.2" y1="4.1" x2="42.2" y2="8.4" stroke="rgb(90,90,90)" stroke-width="0.65" stroke-linecap="round"/><line x1="57.2" y1="1.8" x2="57.2" y2="7.8" stroke="rgb(125,125,125)" stroke-width="0.55" stroke-linecap="round"/><line x1="5.2" y1="72.7" x2="5.2" y2="79.5" stroke="rgb(110,110,110)" stroke-width="0.8" stroke-linecap="round"/><line x1="14.5" y1="41.5" x2="14.5" y2="46.6" stroke="rgb(140,140,140)" stroke-width="0.45" stroke-linecap="round"/><line x1="31.9" y1="50.2" x2="31.9" y2="57.0" stroke="rgb(140,140,140)" stroke-width="0.55" stroke-linecap="round"/><line x1="49.9" y1="1.7" x2="49.9" y2="5.2" stroke="rgb(125,125,125)" stroke-width="0.8" stroke-linecap="round"/><line x1="30.5" y1="37.7" x2="30.5" y2="40.7" stroke="rgb(185,185,185)" stroke-width="0.45" stroke-linecap="round"/><line x1="27.2" y1="30.0" x2="27.2" y2="35.9" stroke="rgb(185,185,185)" stroke-width="0.55" stroke-linecap="round"/><line x1="43.7" y1="9.4" x2="43.7" y2="12.5" stroke="rgb(90,90,90)" stroke-width="0.45" stroke-linecap="round"/><line x1="12.3" y1="71.4" x2="12.3" y2="76.4" stroke="rgb(90,90,90)" stroke-width="0.55" stroke-linecap="round"/><line x1="53.0" y1="79.4" x2="53.0" y2="84.9" stroke="rgb(110,110,110)" stroke-width="0.65" stroke-linecap="round"/><line x1="53.0" y1="-0.6" x2="53.0" y2="4.9" stroke="rgb(110,110,110)" stroke-width="0.65" stroke-linecap="round"/><line x1="4.5" y1="22.5" x2="4.5" y2="29.3" stroke="rgb(185,185,185)" stroke-width="0.65" stroke-linecap="round"/><line x1="56.5" y1="78.9" x2="56.5" y2="81.8" stroke="rgb(155,155,155)" stroke-width="0.8" stroke-linecap="round"/><line x1="56.5" y1="-1.1" x2="56.5" y2="1.8" stroke="rgb(155,155,155)" stroke-width="0.8" stroke-linecap="round"/><line x1="20.2" y1="68.2" x2="20.2" y2="73.3" stroke="rgb(170,170,170)" stroke-width="0.45" stroke-linecap="round"/><line x1="33.0" y1="67.3" x2="33.0" y2="71.0" stroke="rgb(70,70,70)" stroke-width="0.8" stroke-linecap="round"/><line x1="24.2" y1="70.7" x2="24.2" y2="73.6" stroke="rgb(110,110,110)" stroke-width="0.55" stroke-linecap="round"/><line x1="21.8" y1="6.4" x2="21.8" y2="13.1" stroke="rgb(110,110,110)" stroke-width="0.8" stroke-linecap="round"/><line x1="14.1" y1="79.2" x2="14.1" y2="81.7" stroke="rgb(70,70,70)" stroke-width="0.65" stroke-linecap="round"/><line x1="14.1" y1="-0.8" x2="14.1" y2="1.7" stroke="rgb(70,70,70)" stroke-width="0.65" stroke-linecap="round"/><line x1="12.1" y1="78.6" x2="12.1" y2="82.8" stroke="rgb(140,140,140)" stroke-width="0.45" stroke-linecap="round"/><line x1="12.1" y1="-1.4" x2="12.1" y2="2.8" stroke="rgb(140,140,140)" stroke-width="0.45" stroke-linecap="round"/><line x1="41.4" y1="21.7" x2="41.4" y2="26.9" stroke="rgb(185,185,185)" stroke-width="0.8" stroke-linecap="round"/><line x1="46.1" y1="14.1" x2="46.1" y2="20.3" stroke="rgb(110,110,110)" stroke-width="0.55" stroke-linecap="round"/><line x1="36.2" y1="14.7" x2="36.2" y2="20.1" stroke="rgb(90,90,90)" stroke-width="0.8" stroke-linecap="round"/><line x1="18.4" y1="12.7" x2="18.4" y2="18.5" stroke="rgb(125,125,125)" stroke-width="0.55" stroke-linecap="round"/><line x1="57.0" y1="74.0" x2="57.0" y2="80.7" stroke="rgb(125,125,125)" stroke-width="0.45" stroke-linecap="round"/><line x1="57.0" y1="-6.0" x2="57.0" y2="0.7" stroke="rgb(125,125,125)" stroke-width="0.45" stroke-linecap="round"/><line x1="35.1" y1="14.8" x2="35.1" y2="18.8" stroke="rgb(155,155,155)" stroke-width="0.65" stroke-linecap="round"/><line x1="17.6" y1="2.1" x2="17.6" y2="5.1" stroke="rgb(155,155,155)" stroke-width="0.8" stroke-linecap="round"/><line x1="22.5" y1="54.6" x2="22.5" y2="60.3" stroke="rgb(185,185,185)" stroke-width="0.8" stroke-linecap="round"/><line x1="38.7" y1="28.7" x2="38.7" y2="34.3" stroke="rgb(110,110,110)" stroke-width="0.65" stroke-linecap="round"/><line x1="3.0" y1="23.8" x2="3.0" y2="27.1" stroke="rgb(185,185,185)" stroke-width="0.45" stroke-linecap="round"/><line x1="6.7" y1="79.0" x2="6.7" y2="82.0" stroke="rgb(155,155,155)" stroke-width="0.55" stroke-linecap="round"/><line x1="6.7" y1="-1.0" x2="6.7" y2="2.0" stroke="rgb(155,155,155)" stroke-width="0.55" stroke-linecap="round"/><line x1="51.1" y1="57.8" x2="51.1" y2="63.0" stroke="rgb(140,140,140)" stroke-width="0.55" stroke-linecap="round"/><line x1="47.8" y1="77.6" x2="47.8" y2="80.4" stroke="rgb(140,140,140)" stroke-width="0.65" stroke-linecap="round"/><line x1="47.8" y1="-2.4" x2="47.8" y2="0.4" stroke="rgb(140,140,140)" stroke-width="0.65" stroke-linecap="round"/><line x1="20.5" y1="59.8" x2="20.5" y2="66.5" stroke="rgb(140,140,140)" stroke-width="0.55" stroke-linecap="round"/><line x1="38.1" y1="20.7" x2="38.1" y2="23.5" stroke="rgb(185,185,185)" stroke-width="0.65" stroke-linecap="round"/><line x1="42.7" y1="53.2" x2="42.7" y2="58.4" stroke="rgb(170,170,170)" stroke-width="0.8" stroke-linecap="round"/><line x1="38.9" y1="30.4" x2="38.9" y2="34.3" stroke="rgb(110,110,110)" stroke-width="0.45" stroke-linecap="round"/><line x1="22.6" y1="57.4" x2="22.6" y2="63.2" stroke="rgb(140,140,140)" stroke-width="0.8" stroke-linecap="round"/><line x1="32.5" y1="6.0" x2="32.5" y2="11.0" stroke="rgb(185,185,185)" stroke-width="0.45" stroke-linecap="round"/><line x1="59.9" y1="5.9" x2="59.9" y2="11.8" stroke="rgb(140,140,140)" stroke-width="0.55" stroke-linecap="round"/><line x1="-0.1" y1="5.9" x2="-0.1" y2="11.8" stroke="rgb(140,140,140)" stroke-width="0.55" stroke-linecap="round"/><line x1="8.5" y1="60.8" x2="8.5" y2="64.4" stroke="rgb(110,110,110)" stroke-width="0.65" stroke-linecap="round"/><line x1="48.4" y1="28.8" x2="48.4" y2="34.6" stroke="rgb(155,155,155)" stroke-width="0.45" stroke-linecap="round"/><line x1="19.8" y1="34.1" x2="19.8" y2="39.6" stroke="rgb(155,155,155)" stroke-width="0.65" stroke-linecap="round"/><line x1="47.7" y1="37.6" x2="47.7" y2="41.7" stroke="rgb(185,185,185)" stroke-width="0.65" stroke-linecap="round"/><line x1="43.9" y1="8.6" x2="43.9" y2="11.5" stroke="rgb(70,70,70)" stroke-width="0.8" stroke-linecap="round"/><line x1="57.4" y1="13.0" x2="57.4" y2="17.4" stroke="rgb(170,170,170)" stroke-width="0.65" stroke-linecap="round"/><line x1="7.1" y1="9.7" x2="7.1" y2="15.2" stroke="rgb(155,155,155)" stroke-width="0.45" stroke-linecap="round"/><line x1="38.7" y1="33.2" x2="38.7" y2="40.1" stroke="rgb(110,110,110)" stroke-width="0.55" stroke-linecap="round"/><line x1="2.5" y1="47.9" x2="2.5" y2="51.4" stroke="rgb(185,185,185)" stroke-width="0.45" stroke-linecap="round"/><line x1="29.3" y1="20.6" x2="29.3" y2="22.9" stroke="rgb(125,125,125)" stroke-width="0.55" stroke-linecap="round"/><line x1="4.9" y1="74.6" x2="4.9" y2="79.3" stroke="rgb(140,140,140)" stroke-width="0.65" stroke-linecap="round"/><line x1="39.1" y1="11.2" x2="39.1" y2="14.8" stroke="rgb(70,70,70)" stroke-width="0.55" stroke-linecap="round"/><line x1="8.1" y1="39.6" x2="8.1" y2="43.8" stroke="rgb(110,110,110)" stroke-width="0.65" stroke-linecap="round"/><line x1="34.8" y1="47.4" x2="34.8" y2="49.8" stroke="rgb(170,170,170)" stroke-width="0.45" stroke-linecap="round"/><line x1="27.3" y1="58.2" x2="27.3" y2="61.3" stroke="rgb(125,125,125)" stroke-width="0.45" stroke-linecap="round"/><line x1="0.7" y1="28.5" x2="0.7" y2="30.5" stroke="rgb(185,185,185)" stroke-width="0.45" stroke-linecap="round"/><line x1="10.6" y1="19.6" x2="10.6" y2="23.1" stroke="rgb(110,110,110)" stroke-width="0.8" stroke-linecap="round"/><line x1="17.0" y1="40.3" x2="17.0" y2="43.0" stroke="rgb(125,125,125)" stroke-width="0.45" stroke-linecap="round"/><line x1="57.2" y1="8.7" x2="57.2" y2="14.0" stroke="rgb(125,125,125)" stroke-width="0.45" stroke-linecap="round"/><line x1="29.8" y1="57.8" x2="29.8" y2="63.6" stroke="rgb(110,110,110)" stroke-width="0.45" stroke-linecap="round"/><line x1="32.1" y1="79.7" x2="32.1" y2="83.2" stroke="rgb(70,70,70)" stroke-width="0.45" stroke-linecap="round"/><line x1="32.1" y1="-0.3" x2="32.1" y2="3.2" stroke="rgb(70,70,70)" stroke-width="0.45" stroke-linecap="round"/><line x1="34.0" y1="3.7" x2="34.0" y2="9.1" stroke="rgb(125,125,125)" stroke-width="0.65" stroke-linecap="round"/><line x1="1.8" y1="20.7" x2="1.8" y2="27.2" stroke="rgb(90,90,90)" stroke-width="0.8" stroke-linecap="round"/><line x1="53.0" y1="35.2" x2="53.0" y2="40.2" stroke="rgb(90,90,90)" stroke-width="0.55" stroke-linecap="round"/><line x1="39.6" y1="32.4" x2="39.6" y2="34.7" stroke="rgb(110,110,110)" stroke-width="0.8" stroke-linecap="round"/><line x1="38.6" y1="7.1" x2="38.6" y2="11.6" stroke="rgb(70,70,70)" stroke-width="0.55" stroke-linecap="round"/><line x1="44.3" y1="21.3" x2="44.3" y2="26.7" stroke="rgb(185,185,185)" stroke-width="0.65" stroke-linecap="round"/><line x1="35.4" y1="64.0" x2="35.4" y2="69.4" stroke="rgb(70,70,70)" stroke-width="0.8" stroke-linecap="round"/><line x1="28.4" y1="46.9" x2="28.4" y2="51.4" stroke="rgb(185,185,185)" stroke-width="0.65" stroke-linecap="round"/><line x1="4.3" y1="68.6" x2="4.3" y2="73.7" stroke="rgb(170,170,170)" stroke-width="0.55" stroke-linecap="round"/><line x1="10.1" y1="37.7" x2="10.1" y2="43.2" stroke="rgb(140,140,140)" stroke-width="0.65" stroke-linecap="round"/><line x1="26.3" y1="29.2" x2="26.3" y2="33.4" stroke="rgb(70,70,70)" stroke-width="0.45" stroke-linecap="round"/><line x1="11.7" y1="44.2" x2="11.7" y2="49.3" stroke="rgb(110,110,110)" stroke-width="0.45" stroke-linecap="round"/><line x1="32.2" y1="12.9" x2="32.2" y2="18.1" stroke="rgb(90,90,90)" stroke-width="0.55" stroke-linecap="round"/><line x1="47.4" y1="67.5" x2="47.4" y2="72.5" stroke="rgb(70,70,70)" stroke-width="0.8" stroke-linecap="round"/><line x1="40.6" y1="70.4" x2="40.6" y2="73.7" stroke="rgb(90,90,90)" stroke-width="0.45" stroke-linecap="round"/><line x1="53.1" y1="40.3" x2="53.1" y2="45.3" stroke="rgb(110,110,110)" stroke-width="0.55" stroke-linecap="round"/><line x1="38.6" y1="67.7" x2="38.6" y2="74.6" stroke="rgb(140,140,140)" stroke-width="0.45" stroke-linecap="round"/><line x1="56.6" y1="57.2" x2="56.6" y2="59.7" stroke="rgb(140,140,140)" stroke-width="0.55" stroke-linecap="round"/><line x1="25.2" y1="40.5" x2="25.2" y2="44.0" stroke="rgb(140,140,140)" stroke-width="0.8" stroke-linecap="round"/><line x1="42.9" y1="25.7" x2="42.9" y2="32.5" stroke="rgb(185,185,185)" stroke-width="0.45" stroke-linecap="round"/><line x1="38.2" y1="78.6" x2="38.2" y2="84.8" stroke="rgb(110,110,110)" stroke-width="0.45" stroke-linecap="round"/><line x1="38.2" y1="-1.4" x2="38.2" y2="4.8" stroke="rgb(110,110,110)" stroke-width="0.45" stroke-linecap="round"/><line x1="7.8" y1="16.7" x2="7.8" y2="19.3" stroke="rgb(90,90,90)" stroke-width="0.8" stroke-linecap="round"/><line x1="28.6" y1="29.5" x2="28.6" y2="34.0" stroke="rgb(170,170,170)" stroke-width="0.45" stroke-linecap="round"/><line x1="43.5" y1="33.3" x2="43.5" y2="39.6" stroke="rgb(170,170,170)" stroke-width="0.65" stroke-linecap="round"/><line x1="45.0" y1="13.8" x2="45.0" y2="17.9" stroke="rgb(90,90,90)" stroke-width="0.65" stroke-linecap="round"/><line x1="36.3" y1="28.1" x2="36.3" y2="32.7" stroke="rgb(155,155,155)" stroke-width="0.65" stroke-linecap="round"/><line x1="30.0" y1="34.2" x2="30.0" y2="40.3" stroke="rgb(70,70,70)" stroke-width="0.55" stroke-linecap="round"/><line x1="25.5" y1="35.6" x2="25.5" y2="38.2" stroke="rgb(170,170,170)" stroke-width="0.55" stroke-linecap="round"/><line x1="46.2" y1="70.7" x2="46.2" y2="77.3" stroke="rgb(90,90,90)" stroke-width="0.8" stroke-linecap="round"/><line x1="21.9" y1="35.8" x2="21.9" y2="38.0" stroke="rgb(140,140,140)" stroke-width="0.65" stroke-linecap="round"/><line x1="16.0" y1="27.4" x2="16.0" y2="31.6" stroke="rgb(125,125,125)" stroke-width="0.8" stroke-linecap="round"/><line x1="0.7" y1="33.7" x2="0.7" y2="36.9" stroke="rgb(140,140,140)" stroke-width="0.45" stroke-linecap="round"/><line x1="47.2" y1="59.4" x2="47.2" y2="63.5" stroke="rgb(70,70,70)" stroke-width="0.65" stroke-linecap="round"/><line x1="45.8" y1="21.1" x2="45.8" y2="23.6" stroke="rgb(125,125,125)" stroke-width="0.65" stroke-linecap="round"/><line x1="53.3" y1="23.0" x2="53.3" y2="25.1" stroke="rgb(90,90,90)" stroke-width="0.65" stroke-linecap="round"/><line x1="40.9" y1="29.6" x2="40.9" y2="33.0" stroke="rgb(110,110,110)" stroke-width="0.55" stroke-linecap="round"/><line x1="58.9" y1="78.6" x2="58.9" y2="80.8" stroke="rgb(170,170,170)" stroke-width="0.45" stroke-linecap="round"/><line x1="58.9" y1="-1.4" x2="58.9" y2="0.8" stroke="rgb(170,170,170)" stroke-width="0.45" stroke-linecap="round"/><line x1="32.1" y1="6.6" x2="32.1" y2="11.4" stroke="rgb(90,90,90)" stroke-width="0.45" stroke-linecap="round"/><line x1="50.6" y1="25.7" x2="50.6" y2="31.2" stroke="rgb(185,185,185)" stroke-width="0.8" stroke-linecap="round"/><line x1="5.4" y1="16.5" x2="5.4" y2="21.8" stroke="rgb(185,185,185)" stroke-width="0.8" stroke-linecap="round"/><line x1="11.2" y1="24.3" x2="11.2" y2="29.8" stroke="rgb(125,125,125)" stroke-width="0.55" stroke-linecap="round"/><line x1="23.8" y1="52.3" x2="23.8" y2="54.7" stroke="rgb(140,140,140)" stroke-width="0.8" stroke-linecap="round"/><line x1="52.8" y1="36.9" x2="52.8" y2="39.6" stroke="rgb(170,170,170)" stroke-width="0.8" stroke-linecap="round"/><line x1="22.2" y1="36.3" x2="22.2" y2="40.1" stroke="rgb(140,140,140)" stroke-width="0.55" stroke-linecap="round"/><line x1="22.0" y1="17.0" x2="22.0" y2="22.3" stroke="rgb(70,70,70)" stroke-width="0.65" stroke-linecap="round"/><line x1="58.1" y1="40.7" x2="58.1" y2="43.6" stroke="rgb(70,70,70)" stroke-width="0.55" stroke-linecap="round"/><line x1="58.1" y1="0.9" x2="58.1" y2="5.0" stroke="rgb(155,155,155)" stroke-width="0.55" stroke-linecap="round"/><line x1="18.0" y1="34.7" x2="18.0" y2="40.5" stroke="rgb(110,110,110)" stroke-width="0.65" stroke-linecap="round"/><line x1="50.0" y1="1.2" x2="50.0" y2="6.4" stroke="rgb(170,170,170)" stroke-width="0.65" stroke-linecap="round"/><line x1="1.8" y1="53.8" x2="1.8" y2="58.2" stroke="rgb(140,140,140)" stroke-width="0.45" stroke-linecap="round"/><line x1="23.7" y1="35.0" x2="23.7" y2="41.6" stroke="rgb(110,110,110)" stroke-width="0.45" stroke-linecap="round"/><line x1="27.4" y1="38.4" x2="27.4" y2="42.9" stroke="rgb(70,70,70)" stroke-width="0.55" stroke-linecap="round"/><line x1="48.9" y1="26.1" x2="48.9" y2="32.6" stroke="rgb(155,155,155)" stroke-width="0.55" stroke-linecap="round"/><line x1="44.9" y1="73.4" x2="44.9" y2="76.6" stroke="rgb(70,70,70)" stroke-width="0.65" stroke-linecap="round"/><line x1="11.8" y1="19.1" x2="11.8" y2="23.1" stroke="rgb(90,90,90)" stroke-width="0.45" stroke-linecap="round"/><line x1="14.4" y1="58.2" x2="14.4" y2="62.2" stroke="rgb(125,125,125)" stroke-width="0.55" stroke-linecap="round"/><line x1="36.9" y1="3.3" x2="36.9" y2="9.4" stroke="rgb(110,110,110)" stroke-width="0.8" stroke-linecap="round"/><line x1="14.2" y1="66.4" x2="14.2" y2="71.2" stroke="rgb(90,90,90)" stroke-width="0.45" stroke-linecap="round"/><line x1="6.9" y1="73.4" x2="6.9" y2="76.8" stroke="rgb(90,90,90)" stroke-width="0.55" stroke-linecap="round"/><line x1="3.7" y1="41.5" x2="3.7" y2="44.5" stroke="rgb(155,155,155)" stroke-width="0.8" stroke-linecap="round"/><line x1="3.4" y1="0.0" x2="3.4" y2="2.4" stroke="rgb(125,125,125)" stroke-width="0.45" stroke-linecap="round"/><line x1="4.5" y1="40.0" x2="4.5" y2="45.2" stroke="rgb(140,140,140)" stroke-width="0.45" stroke-linecap="round"/><line x1="24.9" y1="39.6" x2="24.9" y2="43.4" stroke="rgb(185,185,185)" stroke-width="0.45" stroke-linecap="round"/><line x1="36.5" y1="46.8" x2="36.5" y2="52.9" stroke="rgb(90,90,90)" stroke-width="0.65" stroke-linecap="round"/><line x1="43.5" y1="25.7" x2="43.5" y2="32.4" stroke="rgb(90,90,90)" stroke-width="0.65" stroke-linecap="round"/><line x1="7.9" y1="73.1" x2="7.9" y2="76.6" stroke="rgb(125,125,125)" stroke-width="0.8" stroke-linecap="round"/><line x1="19.7" y1="26.9" x2="19.7" y2="31.4" stroke="rgb(125,125,125)" stroke-width="0.45" stroke-linecap="round"/><line x1="9.3" y1="55.7" x2="9.3" y2="58.1" stroke="rgb(125,125,125)" stroke-width="0.65" stroke-linecap="round"/><line x1="39.5" y1="66.9" x2="39.5" y2="72.4" stroke="rgb(110,110,110)" stroke-width="0.55" stroke-linecap="round"/><line x1="2.5" y1="78.9" x2="2.5" y2="84.4" stroke="rgb(140,140,140)" stroke-width="0.45" stroke-linecap="round"/><line x1="2.5" y1="-1.1" x2="2.5" y2="4.4" stroke="rgb(140,140,140)" stroke-width="0.45" stroke-linecap="round"/><line x1="34.8" y1="50.4" x2="34.8" y2="54.2" stroke="rgb(90,90,90)" stroke-width="0.8" stroke-linecap="round"/><line x1="26.8" y1="72.8" x2="26.8" y2="78.0" stroke="rgb(140,140,140)" stroke-width="0.45" stroke-linecap="round"/><line x1="28.0" y1="73.9" x2="28.0" y2="79.2" stroke="rgb(70,70,70)" stroke-width="0.55" stroke-linecap="round"/><line x1="26.1" y1="5.4" x2="26.1" y2="11.1" stroke="rgb(90,90,90)" stroke-width="0.45" stroke-linecap="round"/><line x1="52.9" y1="30.7" x2="52.9" y2="36.8" stroke="rgb(185,185,185)" stroke-width="0.55" stroke-linecap="round"/><line x1="49.4" y1="66.9" x2="49.4" y2="69.1" stroke="rgb(70,70,70)" stroke-width="0.55" stroke-linecap="round"/><line x1="1.8" y1="53.3" x2="1.8" y2="56.7" stroke="rgb(110,110,110)" stroke-width="0.45" stroke-linecap="round"/><line x1="25.5" y1="5.6" x2="25.5" y2="12.5" stroke="rgb(140,140,140)" stroke-width="0.8" stroke-linecap="round"/><line x1="34.1" y1="39.9" x2="34.1" y2="43.5" stroke="rgb(70,70,70)" stroke-width="0.8" stroke-linecap="round"/><line x1="35.2" y1="13.4" x2="35.2" y2="18.1" stroke="rgb(90,90,90)" stroke-width="0.65" stroke-linecap="round"/><line x1="51.2" y1="14.1" x2="51.2" y2="17.9" stroke="rgb(155,155,155)" stroke-width="0.65" stroke-linecap="round"/><line x1="53.7" y1="63.4" x2="53.7" y2="67.1" stroke="rgb(170,170,170)" stroke-width="0.65" stroke-linecap="round"/><line x1="44.3" y1="40.9" x2="44.3" y2="46.0" stroke="rgb(155,155,155)" stroke-width="0.45" stroke-linecap="round"/><line x1="21.1" y1="64.0" x2="21.1" y2="67.1" stroke="rgb(140,140,140)" stroke-width="0.8" stroke-linecap="round"/><line x1="13.9" y1="74.3" x2="13.9" y2="76.8" stroke="rgb(140,140,140)" stroke-width="0.8" stroke-linecap="round"/><line x1="7.5" y1="57.6" x2="7.5" y2="64.3" stroke="rgb(170,170,170)" stroke-width="0.45" stroke-linecap="round"/><line x1="8.6" y1="9.8" x2="8.6" y2="15.9" stroke="rgb(70,70,70)" stroke-width="0.45" stroke-linecap="round"/><line x1="19.7" y1="4.6" x2="19.7" y2="8.1" stroke="rgb(170,170,170)" stroke-width="0.8" stroke-linecap="round"/><line x1="25.3" y1="7.8" x2="25.3" y2="10.3" stroke="rgb(125,125,125)" stroke-width="0.8" stroke-linecap="round"/><line x1="43.3" y1="22.8" x2="43.3" y2="28.2" stroke="rgb(140,140,140)" stroke-width="0.55" stroke-linecap="round"/><line x1="3.9" y1="26.5" x2="3.9" y2="28.8" stroke="rgb(125,125,125)" stroke-width="0.45" stroke-linecap="round"/><line x1="50.8" y1="20.6" x2="50.8" y2="24.6" stroke="rgb(155,155,155)" stroke-width="0.65" stroke-linecap="round"/><line x1="50.0" y1="74.9" x2="50.0" y2="77.5" stroke="rgb(140,140,140)" stroke-width="0.55" stroke-linecap="round"/><line x1="1.8" y1="31.9" x2="1.8" y2="38.1" stroke="rgb(170,170,170)" stroke-width="0.8" stroke-linecap="round"/><line x1="31.0" y1="74.8" x2="31.0" y2="78.8" stroke="rgb(90,90,90)" stroke-width="0.55" stroke-linecap="round"/><line x1="28.4" y1="63.6" x2="28.4" y2="69.5" stroke="rgb(140,140,140)" stroke-width="0.45" stroke-linecap="round"/><line x1="24.0" y1="60.6" x2="24.0" y2="64.4" stroke="rgb(155,155,155)" stroke-width="0.65" stroke-linecap="round"/><line x1="32.2" y1="6.1" x2="32.2" y2="9.4" stroke="rgb(140,140,140)" stroke-width="0.55" stroke-linecap="round"/><line x1="50.0" y1="62.5" x2="50.0" y2="68.3" stroke="rgb(155,155,155)" stroke-width="0.55" stroke-linecap="round"/><line x1="17.9" y1="11.0" x2="17.9" y2="17.6" stroke="rgb(70,70,70)" stroke-width="0.65" stroke-linecap="round"/><line x1="0.6" y1="55.1" x2="0.6" y2="60.5" stroke="rgb(185,185,185)" stroke-width="0.65" stroke-linecap="round"/><line x1="22.5" y1="55.5" x2="22.5" y2="59.5" stroke="rgb(170,170,170)" stroke-width="0.8" stroke-linecap="round"/><line x1="20.3" y1="18.0" x2="20.3" y2="23.3" stroke="rgb(170,170,170)" stroke-width="0.55" stroke-linecap="round"/><line x1="31.8" y1="35.0" x2="31.8" y2="39.6" stroke="rgb(110,110,110)" stroke-width="0.55" stroke-linecap="round"/><line x1="8.9" y1="9.5" x2="8.9" y2="12.0" stroke="rgb(170,170,170)" stroke-width="0.45" stroke-linecap="round"/><line x1="30.2" y1="52.3" x2="30.2" y2="55.5" stroke="rgb(110,110,110)" stroke-width="0.8" stroke-linecap="round"/><line x1="16.4" y1="25.5" x2="16.4" y2="28.8" stroke="rgb(70,70,70)" stroke-width="0.65" stroke-linecap="round"/></pattern><pattern id="vhatch" patternUnits="userSpaceOnUse" width="2.3" height="10"><rect width="2.3" height="10" fill="#2e2e2e"/><rect x="0" width="1" height="10" fill="#8e8e8e"/></pattern><pattern id="vhatch2" patternUnits="userSpaceOnUse" width="2.4" height="10"><rect width="2.4" height="10" fill="#3a3a3a"/><rect x="0" width="1.1" height="10" fill="#a8a8a8"/></pattern><pattern id="vhatchL" patternUnits="userSpaceOnUse" width="2.6" height="10"><rect width="2.6" height="10" fill="#7e7e7e"/><rect x="0" width="1.2" height="10" fill="#d4d4d4"/></pattern><pattern id="hlines" patternUnits="userSpaceOnUse" width="10" height="2.2"><rect width="10" height="2.2" fill="#8c8c8c"/><rect y="0" width="10" height="1" fill="#b4b4b4"/></pattern><pattern id="hlinesM" patternUnits="userSpaceOnUse" width="10" height="2.4"><rect width="10" height="2.4" fill="#7e7e7e"/><rect y="0" width="10" height="1.1" fill="#b0b0b0"/></pattern><pattern id="hlinesP" patternUnits="userSpaceOnUse" width="10" height="2.4"><rect width="10" height="2.4" fill="#787878"/><rect y="0" width="10" height="1.2" fill="#b0b0b0"/></pattern><pattern id="hlinesT" patternUnits="userSpaceOnUse" width="10" height="2.3"><rect width="10" height="2.3" fill="#6c6c6c"/><rect y="0" width="10" height="1.1" fill="#a4a4a4"/></pattern><pattern id="vlinesF" patternUnits="userSpaceOnUse" width="2.5" height="10"><rect width="2.5" height="10" fill="#9c9c9c"/><rect width="1.1" height="10" fill="#cacaca"/></pattern><pattern id="hlinesG" patternUnits="userSpaceOnUse" width="10" height="2.3"><rect width="10" height="2.3" fill="#7c7c7c"/><rect y="0" width="10" height="1.1" fill="#b8b8b8"/></pattern><pattern id="hlinesC" patternUnits="userSpaceOnUse" width="10" height="2.3"><rect width="10" height="2.3" fill="#6e6e6e"/><rect y="0" width="10" height="1.1" fill="#b4b4b4"/></pattern><pattern id="vlinesD" patternUnits="userSpaceOnUse" width="2.4" height="10"><rect width="2.4" height="10" fill="#5e5e5e"/><rect width="1" height="10" fill="#9a9a9a"/></pattern><pattern id="vlinesD2" patternUnits="userSpaceOnUse" width="2.4" height="10"><rect width="2.4" height="10" fill="#727272"/><rect width="1" height="10" fill="#ababab"/></pattern><pattern id="hlinesB" patternUnits="userSpaceOnUse" width="10" height="2.3"><rect width="10" height="2.3" fill="#8a8a8a"/><rect y="0" width="10" height="1.1" fill="#c4c4c4"/></pattern><pattern id="hlinesL" patternUnits="userSpaceOnUse" width="10" height="2.2"><rect width="10" height="2.2" fill="#a0a0a0"/><rect y="0" width="10" height="1" fill="#cfcfcf"/></pattern><pattern id="vlinesG" patternUnits="userSpaceOnUse" width="2.2" height="10"><rect width="2.2" height="10" fill="#8a8a8a"/><rect width="1" height="10" fill="#c4c4c4"/></pattern><linearGradient id="vgrad" x1="0" x2="1" y1="0" y2="0"><stop offset="0" stop-color="#c8c8c8"/><stop offset="0.25" stop-color="#b4b4b4"/><stop offset="0.6" stop-color="#7e7e7e"/><stop offset="0.85" stop-color="#9a9a9a"/><stop offset="1" stop-color="#d4d4d4"/></linearGradient><linearGradient id="vgrad2" x1="0" x2="1" y1="0" y2="0"><stop offset="0" stop-color="#8a8a8a"/><stop offset="0.5" stop-color="#c8c8c8"/><stop offset="1" stop-color="#d8d8d8"/></linearGradient><pattern id="vlinesT" patternUnits="userSpaceOnUse" width="2.4" height="10"><rect width="0.8" height="10" fill="#000" opacity="0.25"/></pattern><pattern id="hlinesTT" patternUnits="userSpaceOnUse" width="10" height="2.4"><rect width="10" height="0.9" fill="#000" opacity="0.18"/></pattern></defs><rect width="980" height="777" fill="#d7d7d7"/><g transform="matrix(1 -0.007 0.0105 1 -3.150 0.980)"><rect x="72" y="265.5" width="84" height="64.5" fill="#151515"/><rect x="85.5" y="251" width="97.5" height="70" fill="#151515"/><g stroke="#9a9a9a" stroke-width="0.9" fill="none"><rect x="87.5" y="253" width="93" height="66"/><line x1="101.7" y1="253" x2="101.7" y2="319"/><line x1="119.4" y1="253" x2="119.4" y2="319"/><line x1="136.4" y1="253" x2="136.4" y2="319"/><line x1="152.7" y1="253" x2="152.7" y2="319"/><line x1="166.6" y1="253" x2="166.6" y2="319"/><line x1="87.5" y1="258.5" x2="101.7" y2="258.5"/><line x1="101.7" y1="275.5" x2="119.4" y2="275.5"/><line x1="119.4" y1="258.5" x2="152.7" y2="258.5"/><line x1="119.4" y1="264.5" x2="136.4" y2="264.5"/><line x1="136.4" y1="265" x2="152.7" y2="265"/><line x1="152.7" y1="270.5" x2="166.6" y2="270.5"/><line x1="166.6" y1="264.5" x2="180.5" y2="264.5"/><line x1="87.5" y1="297.5" x2="152.7" y2="297"/></g><g fill="#e4e4e4"><circle cx="105.5" cy="257" r="2.3"/><circle cx="105.5" cy="263.8" r="2.4"/><circle cx="114.3" cy="264" r="2.4"/><circle cx="123.3" cy="269.5" r="2.5"/><circle cx="131.3" cy="269.5" r="2.5"/><circle cx="139.5" cy="261.6" r="1"/><circle cx="144.6" cy="261.6" r="1"/><circle cx="149.6" cy="261.6" r="1"/><circle cx="97.8" cy="279.4" r="0.9"/><circle cx="97.8" cy="282.5" r="0.9"/><circle cx="91.6" cy="294.4" r="2.3"/><circle cx="98.1" cy="294.4" r="2.3"/><circle cx="139.2" cy="281.4" r="0.8"/><circle cx="139.2" cy="284.8" r="0.8"/><rect x="138" y="288.7" width="7" height="3.8"/><circle cx="148.3" cy="290.5" r="2.3"/></g><g fill="none" stroke="#cfcfcf" stroke-width="0.8"><circle cx="93.2" cy="264.7" r="3.8"/><circle cx="161.1" cy="257.8" r="3"/><circle cx="161.1" cy="266.3" r="3"/></g><rect x="134.5" y="320" width="21.5" height="23" fill="#151515"/><path d="M155,309.5 L183.5,281 L210.5,281 L210.5,343 L155,343 Z" fill="url(#vhatchL)"/><rect x="183" y="281" width="27.5" height="4" fill="#3a3a3a"/><path d="M155,309.5 L183.5,281 L210.5,281" fill="none" stroke="#e4e4e4" stroke-width="1.1"/><path d="M156,312 L184.5,283.6 L210.5,283.6" fill="none" stroke="#d8d8d8" stroke-width="0.9"/><rect x="193.6" y="309.5" width="6.2" height="33" fill="#151515"/><ellipse cx="119.3" cy="287.3" rx="2.8" ry="4" fill="#e2e2e2"/><path d="M116.8,291 L121.8,291 L122.3,292.6 L125.8,293.8 Q128.2,294.8 129.5,297.3 L131.6,300.3 Q132.2,302 130.6,302.4 L126.6,299.8 L126.8,312 L128.2,329.2 L111.2,329.2 L112.8,312 L112.9,302 L111.6,307 L111.3,313.5 Q110.6,315.6 109.6,314.2 L109.3,306 L110.4,297.5 Q111.2,294.6 113.5,293.8 L116.3,292.6 Z" fill="#e2e2e2"/><rect x="95" y="330.4" width="40" height="13" fill="#dadada"/><path d="M114.4,329.2 L124.9,329.2 L124.6,342.3 L121.6,342.3 L120.2,332 L118.5,342.3 L115.4,342.3 Z" fill="#151515"/><rect x="101.7" y="343.8" width="99.3" height="4" fill="#151515"/><rect x="83.6" y="350.5" width="117.4" height="5.7" fill="#151515"/><rect x="134.5" y="343.8" width="66.5" height="12.4" fill="#151515"/><rect x="134.5" y="341.8" width="76" height="2" fill="#bcbcbc"/><rect x="136" y="347.3" width="65" height="1.2" fill="#555"/></g><g transform="matrix(1 -0.007 0.0105 1 -4.935 2.100)"><rect x="188.6" y="343" width="14" height="303.2" fill="#151515"/><rect x="188" y="347.3" width="14.5" height="1.2" fill="#555"/><rect x="188.6" y="632" width="204" height="14.2" fill="#151515"/><rect x="202.1" y="303.1" width="203.9" height="330.2" fill="url(#speck)"/><rect x="239.9" y="322.3" width="127.6" height="288" fill="#161616"/><rect x="239.9" y="323.4" width="127.6" height="20.6" fill="url(#vhatch)"/><rect x="239.9" y="344" width="127.6" height="1.4" fill="#b0b0b0"/><rect x="253.4" y="360.2" width="101.8" height="237.6" fill="url(#vhatch2)"/><path d="M304.7,361.5 L301.5,361.5 L285.4,365 L263.4,370.3 Q254.8,372.5 254.8,380 L254.8,572 Q254.8,580 262,582.5 L302.5,595.5 L302.5,600 L310.5,600 L310.5,595.5 L347.5,582.5 Q352.2,580 352.2,572 L352.2,380 Q352.2,372.5 343,370.3 L319.7,365 L308.5,361.5 Z" fill="#161616" stroke="#d4d4d4" stroke-width="3.3" stroke-linejoin="round"/><rect x="267.7" y="377" width="5.8" height="202.5" rx="1.6" fill="#c4c4c4"/><rect x="269.3" y="378.5" width="2.6" height="199.5" fill="#8a8a8a"/><rect x="270.3" y="378.5" width="0.8" height="199.5" fill="#5a5a5a"/><rect x="278.1" y="377" width="5.8" height="202.5" rx="1.6" fill="#c4c4c4"/><rect x="279.7" y="378.5" width="2.6" height="199.5" fill="#8a8a8a"/><rect x="280.7" y="378.5" width="0.8" height="199.5" fill="#5a5a5a"/><rect x="289.4" y="377" width="5.8" height="202.5" rx="1.6" fill="#c4c4c4"/><rect x="291.0" y="378.5" width="2.6" height="199.5" fill="#8a8a8a"/><rect x="292.0" y="378.5" width="0.8" height="199.5" fill="#5a5a5a"/><rect x="299.9" y="377" width="5.8" height="202.5" rx="1.6" fill="#c4c4c4"/><rect x="301.5" y="378.5" width="2.6" height="199.5" fill="#8a8a8a"/><rect x="302.5" y="378.5" width="0.8" height="199.5" fill="#5a5a5a"/><rect x="312.1" y="377" width="5.8" height="202.5" rx="1.6" fill="#c4c4c4"/><rect x="313.7" y="378.5" width="2.6" height="199.5" fill="#8a8a8a"/><rect x="314.7" y="378.5" width="0.8" height="199.5" fill="#5a5a5a"/><rect x="323.8" y="377" width="5.8" height="202.5" rx="1.6" fill="#c4c4c4"/><rect x="325.4" y="378.5" width="2.6" height="199.5" fill="#8a8a8a"/><rect x="326.4" y="378.5" width="0.8" height="199.5" fill="#5a5a5a"/><rect x="334.8" y="377" width="5.8" height="202.5" rx="1.6" fill="#c4c4c4"/><rect x="336.4" y="378.5" width="2.6" height="199.5" fill="#8a8a8a"/><rect x="337.4" y="378.5" width="0.8" height="199.5" fill="#5a5a5a"/><rect x="285.7" y="233" width="3.2" height="210" fill="#2a2a2a"/><rect x="286.8" y="362" width="1" height="81" fill="#9a9a9a"/><rect x="283.3" y="233" width="8" height="2.6" fill="#2a2a2a"/><rect x="319.59999999999997" y="268.7" width="3.2" height="222.3" fill="#2a2a2a"/><rect x="320.7" y="362" width="1" height="129" fill="#9a9a9a"/><rect x="317.3" y="268.7" width="7.8" height="2.6" fill="#2a2a2a"/><g transform="translate(2.0,0)"><rect x="280.7" y="283.8" width="5.6" height="8.2" rx="1.5" fill="#1e1e1e"/><rect x="286" y="284.6" width="4.5" height="6.8" fill="#1e1e1e"/><rect x="290.1" y="279.7" width="5" height="15.5" rx="2.2" fill="#1e1e1e"/><rect x="306.3" y="279.7" width="4.6" height="15.5" rx="2.2" fill="#1e1e1e"/><rect x="294.6" y="279.7" width="12.2" height="15.5" fill="#262626"/><rect x="294.6" y="279.7" width="12.2" height="4.6" fill="#7a7a7a"/><rect x="294.6" y="280.2" width="12.2" height="1.4" fill="#a0a0a0"/><line x1="294.9" y1="279.7" x2="294.9" y2="295.2" stroke="#9a9a9a" stroke-width="0.6"/><line x1="306.5" y1="279.7" x2="306.5" y2="295.2" stroke="#9a9a9a" stroke-width="0.6"/><path d="M296.5,295.2 L305,295.2 L305.6,300.1 L295.8,300.1 Z" fill="#1e1e1e"/><rect x="296" y="296.5" width="9.4" height="0.8" fill="#8a8a8a"/><rect x="291.3" y="300.6" width="18" height="2.8" fill="#1e1e1e"/></g><g transform="translate(36.3,0)"><rect x="280.7" y="283.8" width="5.6" height="8.2" rx="1.5" fill="#1e1e1e"/><rect x="286" y="284.6" width="4.5" height="6.8" fill="#1e1e1e"/><rect x="290.1" y="279.7" width="5" height="15.5" rx="2.2" fill="#1e1e1e"/><rect x="306.3" y="279.7" width="4.6" height="15.5" rx="2.2" fill="#1e1e1e"/><rect x="294.6" y="279.7" width="12.2" height="15.5" fill="#262626"/><rect x="294.6" y="279.7" width="12.2" height="4.6" fill="#7a7a7a"/><rect x="294.6" y="280.2" width="12.2" height="1.4" fill="#a0a0a0"/><line x1="294.9" y1="279.7" x2="294.9" y2="295.2" stroke="#9a9a9a" stroke-width="0.6"/><line x1="306.5" y1="279.7" x2="306.5" y2="295.2" stroke="#9a9a9a" stroke-width="0.6"/><path d="M296.5,295.2 L305,295.2 L305.6,300.1 L295.8,300.1 Z" fill="#1e1e1e"/><rect x="296" y="296.5" width="9.4" height="0.8" fill="#8a8a8a"/><rect x="291.3" y="300.6" width="18" height="2.8" fill="#1e1e1e"/></g></g><g transform="matrix(1 -0.007 0.0105 1 -3.780 5.684)"><path d="M705.2,504.36 L735.5,503.98 L908.4,504.19 L908.3,512.49 L829.6,525.44 L828.5,520.93 L758.9,521.64 L758.95,517.04 L735.4,508.98 L716.4,508.94 L705.2,508.86 Z" fill="#151515"/></g><g transform="matrix(1 -0.007 0.0105 1 -4.725 3.430)"><path d="M406.1,560.8 L650.8,560.8" fill="none" stroke="#151515" stroke-width="9.8" stroke-linejoin="round" stroke-linecap="butt"/><circle cx="650.8" cy="560.8" r="4.9" fill="#151515"/><path d="M458.1,599.8 L458.1,531 Q458.1,528.1 461,528.1 L539.2,528.1" fill="none" stroke="#151515" stroke-width="10" stroke-linejoin="round" stroke-linecap="round"/><path d="M528.12,486.27 L539.62,486.35 L539.22,524.35 L527.72,524.27 Z" fill="#151515"/><path d="M291.16,642.62 L313.96,642.78 L313.88,650.78 L467.88,651.86 L467.72,666.56 L305.72,665.43 Q290.92,665.32 291.08,650.62 Z" fill="#151515"/><path d="M484.88,651.83 L647.88,652.97" fill="none" stroke="#151515" stroke-width="9.7" stroke-linecap="round"/><path d="M723.3,446.1 L723.3,595.6" fill="none" stroke="#151515" stroke-width="9.4" stroke-linejoin="round" stroke-linecap="butt"/><path d="M694.6,595.6 L731.4,595.6 L731.4,601.5 Q731.4,608 724.5,608 L694.6,608 Z" fill="#151515"/><path d="M464.73,570.83 A17,17 0 0 1 481.55,587.95 L489.53,590.01 L489.34,608.01 L456.34,607.78 Q442.64,607.68 442.78,594.68 Q442.92,580.68 451.68,575.74 Q457.23,570.78 464.73,570.83 Z" fill="#151515"/><circle cx="467.22" cy="638.55" r="17" fill="#151515"/><ellipse cx="455.94" cy="645.78" rx="15.3" ry="13" fill="#151515"/><path d="M544.5,482.4 L544.5,512.6 Q544.5,519.6 537.5,519.6 L474.7,519.6 Q467.7,519.6 467.7,526.6 L467.7,581.8" fill="none" stroke="#1a1a1a" stroke-width="10" stroke-linejoin="round"/><path d="M544.5,482.4 L544.5,512.6 Q544.5,519.6 537.5,519.6 L474.7,519.6 Q467.7,519.6 467.7,526.6 L467.7,581.8" transform="translate(1.1,-1.1)" fill="none" stroke="#6c6c6c" stroke-width="6.8" stroke-linejoin="round"/><path d="M544.5,482.4 L544.5,512.6 Q544.5,519.6 537.5,519.6 L474.7,519.6 Q467.7,519.6 467.7,526.6 L467.7,581.8" transform="translate(1.1,-1.1)" fill="none" stroke="#bcbcbc" stroke-width="3.4" stroke-linejoin="round"/><path d="M544.5,482.4 L544.5,512.6 Q544.5,519.6 537.5,519.6 L474.7,519.6 Q467.7,519.6 467.7,526.6 L467.7,581.8" transform="translate(1.1,-1.1)" fill="none" stroke="#707070" stroke-width="0.7" stroke-linejoin="round"/><path d="M304,360.7 L304,340.5 Q304,333.95 310.5,333.95 L381,333.95 Q387.55,333.95 387.55,340.5 L387.55,544.5 Q387.55,551 394,551 L650,551 Q656.7,551 656.7,557.5 L656.7,561.2" fill="none" stroke="#1a1a1a" stroke-width="9.5" stroke-linejoin="round"/><path d="M304,360.7 L304,340.5 Q304,333.95 310.5,333.95 L381,333.95 Q387.55,333.95 387.55,340.5 L387.55,544.5 Q387.55,551 394,551 L650,551 Q656.7,551 656.7,557.5 L656.7,561.2" transform="translate(1.1,-1.1)" fill="none" stroke="#6c6c6c" stroke-width="6.3" stroke-linejoin="round"/><path d="M304,360.7 L304,340.5 Q304,333.95 310.5,333.95 L381,333.95 Q387.55,333.95 387.55,340.5 L387.55,544.5 Q387.55,551 394,551 L650,551 Q656.7,551 656.7,557.5 L656.7,561.2" transform="translate(1.1,-1.1)" fill="none" stroke="#bcbcbc" stroke-width="3.1" stroke-linejoin="round"/><path d="M304,360.7 L304,340.5 Q304,333.95 310.5,333.95 L381,333.95 Q387.55,333.95 387.55,340.5 L387.55,544.5 Q387.55,551 394,551 L650,551 Q656.7,551 656.7,557.5 L656.7,561.2" transform="translate(1.1,-1.1)" fill="none" stroke="#707070" stroke-width="0.7" stroke-linejoin="round"/><rect x="535.6" y="485.1" width="15.7" height="3.7" fill="#a8a8a8" stroke="#1a1a1a" stroke-width="0.6"/><path d="M656.94,628.18 L656.87,635.18 Q656.79,642.93 648.99,642.88 L477.99,641.68" fill="none" stroke="#1a1a1a" stroke-width="10.5" stroke-linejoin="round"/><path d="M656.94,628.18 L656.87,635.18 Q656.79,642.93 648.99,642.88 L477.99,641.68" transform="translate(1.1,-1.1)" fill="none" stroke="#6c6c6c" stroke-width="7.3" stroke-linejoin="round"/><path d="M656.94,628.18 L656.87,635.18 Q656.79,642.93 648.99,642.88 L477.99,641.68" transform="translate(1.1,-1.1)" fill="none" stroke="#bcbcbc" stroke-width="3.6" stroke-linejoin="round"/><path d="M656.94,628.18 L656.87,635.18 Q656.79,642.93 648.99,642.88 L477.99,641.68" transform="translate(1.1,-1.1)" fill="none" stroke="#707070" stroke-width="0.7" stroke-linejoin="round"/><path d="M444.88,651.70 L315.88,650.80 Q304.53,650.72 304.64,639.72 L305.09,597.42" fill="none" stroke="#1a1a1a" stroke-width="10.5" stroke-linejoin="round"/><path d="M444.88,651.70 L315.88,650.80 Q304.53,650.72 304.64,639.72 L305.09,597.42" transform="translate(1.1,-1.1)" fill="none" stroke="#6c6c6c" stroke-width="7.3" stroke-linejoin="round"/><path d="M444.88,651.70 L315.88,650.80 Q304.53,650.72 304.64,639.72 L305.09,597.42" transform="translate(1.1,-1.1)" fill="none" stroke="#bcbcbc" stroke-width="3.6" stroke-linejoin="round"/><path d="M444.88,651.70 L315.88,650.80 Q304.53,650.72 304.64,639.72 L305.09,597.42" transform="translate(1.1,-1.1)" fill="none" stroke="#707070" stroke-width="0.7" stroke-linejoin="round"/><path d="M698.5,593.1 L726.5,593.1 Q733,593.1 733,586.6 L733,446.7" fill="none" stroke="#1a1a1a" stroke-width="10" stroke-linejoin="round"/><path d="M698.5,593.1 L726.5,593.1 Q733,593.1 733,586.6 L733,446.7" transform="translate(1.1,-1.1)" fill="none" stroke="#6c6c6c" stroke-width="6.8" stroke-linejoin="round"/><path d="M698.5,593.1 L726.5,593.1 Q733,593.1 733,586.6 L733,446.7" transform="translate(1.1,-1.1)" fill="none" stroke="#bcbcbc" stroke-width="3.4" stroke-linejoin="round"/><path d="M698.5,593.1 L726.5,593.1 Q733,593.1 733,586.6 L733,446.7" transform="translate(1.1,-1.1)" fill="none" stroke="#707070" stroke-width="0.7" stroke-linejoin="round"/><path d="M450.64,579.13 A15.5,15.5 0 0 0 459.02,600.59 L489.42,600.81" fill="none" stroke="#bdbdbd" stroke-width="1.4"/><rect x="474.52" y="590.90" width="15.5" height="5.8" fill="#7a7a7a"/><rect x="474.52" y="591.50" width="15.5" height="1.2" fill="#b8b8b8"/><circle cx="466.86" cy="587.45" r="6.8" fill="#1a1a1a" stroke="#a0a0a0" stroke-width="1.6"/><circle cx="466.86" cy="587.45" r="3.6" fill="none" stroke="#6a6a6a" stroke-width="0.8"/><rect x="432.72" y="665.12" width="2.6" height="3.8" fill="#151515"/><rect x="473.22" y="607.90" width="3" height="4" fill="#151515"/><circle cx="467.22" cy="638.55" r="15" fill="none" stroke="#8a8a8a" stroke-width="1.4"/><circle cx="467.22" cy="638.55" r="13" fill="#1a1a1a"/><path d="M464.78,632.24 A8.2,8.2 0 1 0 471.52,647.69" fill="none" stroke="#b4b4b4" stroke-width="1.8"/><rect x="411.6" y="543" width="4" height="16.5" fill="#a8a8a8" stroke="#1a1a1a" stroke-width="0.6"/><rect x="296.8" y="636.5" width="17" height="3.8" fill="#a8a8a8" stroke="#1a1a1a" stroke-width="0.6"/><rect x="443.47" y="643.29" width="3.7" height="15.4" fill="#a8a8a8" stroke="#1a1a1a" stroke-width="0.6"/><rect x="724" y="455.9" width="16.3" height="4.4" fill="#a8a8a8" stroke="#1a1a1a" stroke-width="0.6"/></g><g transform="matrix(1 -0.007 0.0105 1 -4.935 2.100)"><rect x="285.7" y="326" width="3.2" height="16" fill="#2a2a2a"/><rect x="319.59999999999997" y="326" width="3.2" height="16" fill="#2a2a2a"/></g><g transform="matrix(1 -0.007 0.0105 1 -6.269 4.165)"><path d="M515,572 L641.6,572 L641.6,626.5 L505,626.5 Q489.8,624 489.8,600 Q489.8,578 513,574 Z" fill="#151515"/><path d="M513,575.8 Q498.4,580 498.4,597.3 Q498.4,614.6 513,618.7" fill="none" stroke="#bdbdbd" stroke-width="1.2"/><rect x="511.8" y="575.8" width="14.7" height="42.9" fill="url(#vlinesG)"/><rect x="531.4" y="572.6" width="102.3" height="45.4" fill="url(#hlinesB)"/><rect x="531.4" y="573.4" width="104.1" height="4" fill="#b8b8b8" opacity="0.6"/><rect x="525.3" y="569.7" width="6.1" height="52.6" rx="1" fill="#b0b0b0" stroke="#1a1a1a" stroke-width="0.8"/><rect x="633.7" y="568.5" width="7.9" height="56.3" fill="#151515"/><rect x="641.6" y="567.8" width="33.7" height="54.4" rx="3" fill="url(#vgrad)"/><rect x="641.6" y="567.8" width="33.7" height="54.4" rx="3" fill="url(#hlinesTT)"/><rect x="676.5" y="567.8" width="5.5" height="58.2" fill="#1c1c1c"/><rect x="677.3" y="568.5" width="0.9" height="56.5" fill="#8a8a8a"/><path d="M682,571.4 Q699.2,574 699.2,593.2 Q699.2,612.4 682,614.9 Z" fill="url(#vgrad2)" stroke="#2a2a2a" stroke-width="0.8"/><path d="M682,571.4 Q699.2,574 699.2,593.2 Q699.2,612.4 682,614.9 Z" fill="url(#hlinesTT)"/><rect x="519" y="626" width="3" height="4" fill="#151515"/><rect x="626" y="626" width="3" height="4" fill="#151515"/><rect x="493" y="590.3" width="7.4" height="5.7" fill="#8a8a8a" stroke="#1a1a1a" stroke-width="0.6"/><rect x="491.2" y="588.9" width="3.1" height="14.3" fill="#b0b0b0" stroke="#1a1a1a" stroke-width="0.6"/><rect x="698" y="589.3" width="14" height="9.7" fill="#8a8a8a" stroke="#1a1a1a" stroke-width="0.8"/><rect x="704" y="584.4" width="5" height="18.4" fill="#a8a8a8" stroke="#1a1a1a" stroke-width="0.6"/><rect x="649" y="556.2" width="14.7" height="6.1" fill="#a8a8a8" stroke="#1a1a1a" stroke-width="0.6"/><rect x="650.2" y="623.6" width="17.2" height="4.9" fill="#a8a8a8" stroke="#1a1a1a" stroke-width="0.6"/></g><g transform="matrix(1 -0.007 0.0105 1 -3.150 3.605)"><rect x="456.4" y="270.7" width="11.6" height="62.2" fill="#151515"/><rect x="467.9" y="264.3" width="10" height="62.8" fill="url(#vlinesF)" stroke="#555" stroke-width="0.6"/><rect x="561.4" y="263.8" width="10" height="62.8" fill="url(#vlinesF)" stroke="#555" stroke-width="0.6"/><rect x="477.8" y="257.8" width="83" height="73" fill="url(#hlinesT)"/><rect x="477.8" y="257.8" width="4" height="73" fill="#2a2a2a"/><rect x="558.6" y="257.8" width="2" height="73" fill="#c0c0c0"/><rect x="475" y="254.8" width="86.4" height="3.2" fill="#1e1e1e"/><rect x="494.2" y="261.6" width="8.2" height="66.4" rx="3" fill="#1a1a1a" stroke="#c8c8c8" stroke-width="0.9"/><rect x="496.4" y="264" width="0.9" height="61" fill="#6a6a6a"/><rect x="503.5" y="261.6" width="8.2" height="66.4" rx="3" fill="#1a1a1a" stroke="#c8c8c8" stroke-width="0.9"/><rect x="505.7" y="264" width="0.9" height="61" fill="#6a6a6a"/><rect x="512.8" y="261.6" width="8.2" height="66.4" rx="3" fill="#1a1a1a" stroke="#c8c8c8" stroke-width="0.9"/><rect x="515.0" y="264" width="0.9" height="61" fill="#6a6a6a"/><rect x="522.1" y="261.6" width="8.2" height="66.4" rx="3" fill="#1a1a1a" stroke="#c8c8c8" stroke-width="0.9"/><rect x="524.3000000000001" y="264" width="0.9" height="61" fill="#6a6a6a"/><rect x="531.4" y="261.6" width="8.2" height="66.4" rx="3" fill="#1a1a1a" stroke="#c8c8c8" stroke-width="0.9"/><rect x="533.6" y="264" width="0.9" height="61" fill="#6a6a6a"/><rect x="474" y="330.8" width="83" height="10.8" fill="#151515"/><rect x="464.3" y="342.5" width="116.2" height="4.5" fill="#8a8a8a"/><rect x="453.5" y="348.8" width="114.5" height="6.2" fill="#151515"/><path d="M491.20000000000005,223.8 L493.40000000000003,231 L489.00000000000006,231 Z" fill="#1e1e1e"/><rect x="489.6" y="230" width="3.2" height="24" fill="#2a2a2a"/><rect x="488.70" y="231.5" width="5" height="3" rx="1" fill="#262626"/><rect x="489.20" y="234.4" width="4" height="0.8" fill="#9a9a9a"/><rect x="488.20" y="236.8" width="6" height="3" rx="1" fill="#262626"/><rect x="488.70" y="239.70000000000002" width="5" height="0.8" fill="#9a9a9a"/><rect x="487.70" y="242.1" width="7" height="3" rx="1" fill="#262626"/><rect x="488.20" y="245.0" width="6" height="0.8" fill="#9a9a9a"/><rect x="487.10" y="247.6" width="8.2" height="3" rx="1" fill="#262626"/><rect x="487.60" y="250.5" width="7.199999999999999" height="0.8" fill="#9a9a9a"/><path d="M519.0,223.8 L521.2,231 L516.8,231 Z" fill="#1e1e1e"/><rect x="517.4" y="230" width="3.2" height="24" fill="#2a2a2a"/><rect x="516.50" y="231.5" width="5" height="3" rx="1" fill="#262626"/><rect x="517.00" y="234.4" width="4" height="0.8" fill="#9a9a9a"/><rect x="516.00" y="236.8" width="6" height="3" rx="1" fill="#262626"/><rect x="516.50" y="239.70000000000002" width="5" height="0.8" fill="#9a9a9a"/><rect x="515.50" y="242.1" width="7" height="3" rx="1" fill="#262626"/><rect x="516.00" y="245.0" width="6" height="0.8" fill="#9a9a9a"/><rect x="514.90" y="247.6" width="8.2" height="3" rx="1" fill="#262626"/><rect x="515.40" y="250.5" width="7.199999999999999" height="0.8" fill="#9a9a9a"/><path d="M546.6,223.8 L548.8000000000001,231 L544.4,231 Z" fill="#1e1e1e"/><rect x="545.0" y="230" width="3.2" height="24" fill="#2a2a2a"/><rect x="544.10" y="231.5" width="5" height="3" rx="1" fill="#262626"/><rect x="544.60" y="234.4" width="4" height="0.8" fill="#9a9a9a"/><rect x="543.60" y="236.8" width="6" height="3" rx="1" fill="#262626"/><rect x="544.10" y="239.70000000000002" width="5" height="0.8" fill="#9a9a9a"/><rect x="543.10" y="242.1" width="7" height="3" rx="1" fill="#262626"/><rect x="543.60" y="245.0" width="6" height="0.8" fill="#9a9a9a"/><rect x="542.50" y="247.6" width="8.2" height="3" rx="1" fill="#262626"/><rect x="543.00" y="250.5" width="7.199999999999999" height="0.8" fill="#9a9a9a"/><line x1="494.5" y1="234.36" x2="515" y2="234.28" stroke="#1e1e1e" stroke-width="1.6"/><line x1="522.5" y1="234.25" x2="543" y2="234.17" stroke="#1e1e1e" stroke-width="1.6"/><line x1="550" y1="234.15" x2="724.8" y2="233.48" stroke="#1e1e1e" stroke-width="1.6"/><line x1="735.2" y1="233.44" x2="752.5" y2="233.37" stroke="#1e1e1e" stroke-width="1.6"/><line x1="760" y1="233.34" x2="808.5" y2="233.16" stroke="#1e1e1e" stroke-width="1.6"/><line x1="819" y1="233.12" x2="891.5" y2="232.84" stroke="#1e1e1e" stroke-width="1.6"/><rect x="487.6" y="355" width="2" height="39" fill="#2a2a2a"/><rect x="494.9" y="355" width="2" height="39" fill="#2a2a2a"/><rect x="501.2" y="355" width="2" height="39" fill="#2a2a2a"/></g><g transform="matrix(1 -0.007 0.0105 1 -4.515 4.270)"><rect x="464.5" y="398.7" width="14" height="41.5" fill="#151515"/><path d="M526.7,374 L539,374 L539,440.5 L536.7,440.5 L536.7,420 Q536.7,400 527.5,393.3 L526.7,393.3 Z" fill="#151515"/><path d="M476.6,440.5 L476.6,393.3 L527.5,393.3 Q536.7,400 536.7,420 L536.7,440.5 Z" fill="url(#hlinesG)"/><rect x="477" y="393.3" width="50" height="4.5" fill="#c4c4c4" opacity="0.6"/><rect x="476.6" y="393.3" width="1.2" height="47" fill="#d0d0d0"/><circle cx="504.8" cy="416.8" r="11.6" fill="none" stroke="#d4d4d4" stroke-width="0.9"/><path d="M500.5,405.5 A11.9,11.9 0 0 0 505.5,428.7" fill="none" stroke="#151515" stroke-width="2.6" stroke-linecap="round"/><path d="M538.1,440.5 L538.1,371 Q538.1,366.5 542.5,366.5 L576.3,366.5 L576.3,440.5 Z" fill="url(#hlinesC)"/><rect x="540" y="367" width="36" height="5" fill="#c0c0c0" opacity="0.45"/><rect x="538.1" y="368" width="1.5" height="72.5" fill="#e0e0e0"/><rect x="576.1" y="360" width="50.2" height="77.2" fill="#161616"/><g stroke="#a0a0a0" stroke-width="0.9" fill="none"><rect x="578" y="361.8" width="46.4" height="73.6"/><line x1="592.2" y1="361.8" x2="592.2" y2="435.4"/><line x1="608.8" y1="361.8" x2="608.8" y2="435.4"/><line x1="592.2" y1="368.4" x2="608.8" y2="368.4"/><line x1="592.2" y1="377" x2="624.4" y2="377"/><line x1="578" y1="396.5" x2="592.2" y2="396.5"/><line x1="592.2" y1="402.6" x2="624.4" y2="402.6"/><line x1="608.8" y1="410" x2="624.4" y2="410"/><line x1="608.8" y1="416.7" x2="624.4" y2="416.7"/></g><g fill="#e4e4e4"><circle cx="584.9" cy="369.6" r="4.6"/><circle cx="612.4" cy="387.3" r="3.4"/><circle cx="619.8" cy="387.3" r="3.4"/><circle cx="596.9" cy="397.5" r="3.7"/><circle cx="615.9" cy="421" r="2.5"/></g><g fill="none" stroke="#b0b0b0" stroke-width="0.9"><circle cx="595.9" cy="372.7" r="2.3"/><circle cx="604.5" cy="372.7" r="2.3"/><circle cx="581.8" cy="400.2" r="2.1"/><circle cx="581.8" cy="407.5" r="2.1"/></g><path d="M626.3,438.6 L626.3,364.6 L652,364.6 Q655.6,366 655.6,372 L655.6,438.6 Z" fill="url(#hlinesC)"/><rect x="655.5" y="363.3" width="15.6" height="75.3" fill="#1c1c1c"/><path d="M657,372 Q663,380 663,400 Q663,420 657,430 L657,372 Z" fill="url(#hlinesM)"/><rect x="696.6" y="364" width="11.4" height="73.6" fill="#1c1c1c"/><path d="M697,384 Q707,392 707,410 Q707,425 697,428 Z" fill="url(#hlinesM)"/><path d="M674,356.3 L689,356.3 Q692.4,356.3 692.6,360 L699,425 L668.3,425 L670.4,360 Q670.6,356.3 674,356.3 Z" fill="url(#hlinesM)" stroke="#1e1e1e" stroke-width="1"/><rect x="664" y="425" width="36.8" height="5.6" fill="#1e1e1e"/><rect x="664" y="425.6" width="36.8" height="1.2" fill="#9a9a9a"/><rect x="665.5" y="430.6" width="33.2" height="8" fill="url(#hlinesM)"/><rect x="707.6" y="356.3" width="7.1" height="81.3" fill="url(#vlinesD)"/><rect x="714.7" y="373.3" width="12.3" height="64.3" fill="url(#vlinesD2)"/><rect x="727" y="398.7" width="11.3" height="38.9" fill="url(#vlinesD2)"/><g stroke="#1e1e1e" stroke-width="0.9"><line x1="707.6" y1="356.3" x2="714.7" y2="356.3"/><line x1="714.7" y1="373.3" x2="727" y2="373.3"/><line x1="727" y1="398.7" x2="738.3" y2="398.7"/><line x1="714.7" y1="356.3" x2="714.7" y2="437.6"/><line x1="727" y1="373.3" x2="727" y2="437.6"/></g><path d="M626.3,440 L624.5,403 L628,394 L627,430 Z" fill="#1a1a1a"/><ellipse cx="637.1" cy="384.7" rx="2.7" ry="3.9" fill="#e2e2e2"/><path d="M634.6,388.3 L639.6,388.3 L640.2,390.3 L643.8,391.4 Q646,392.2 646.6,394.8 L647.6,401 L648.2,404.5 L646.6,405 L645,399 L643.8,399 L643.8,427.7 L642,427.7 L641.8,438 L638,438 L637.3,428.5 L636.3,428.5 L634.2,438 L630,438 L630.8,427.7 L628.5,427.7 L630.2,399 L628.8,399 L626.6,402.5 L624.9,402 L626.5,394.8 Q627.5,392.2 630,391.4 L634,390.3 Z" fill="#e2e2e2"/><path d="M472.7,444 L698,444 L698,456 L666,456 L666,476 L653.7,476 L653.7,485.5 L472.7,485.5 Z" fill="#151515"/><rect x="666" y="456.5" width="22" height="10" fill="#151515"/><rect x="485.8" y="447.5" width="13.5" height="29.3" fill="url(#hlinesP)"/><rect x="501.7" y="447.5" width="28.3" height="29.3" fill="url(#hlinesP)"/><rect x="532.4" y="447.5" width="28.2" height="29.3" fill="url(#hlinesP)"/><rect x="563.0" y="447.5" width="29.3" height="29.3" fill="url(#hlinesP)"/><rect x="594.7" y="447.5" width="28.1" height="29.3" fill="url(#hlinesP)"/><rect x="625.2" y="447.5" width="29.3" height="29.3" fill="url(#hlinesP)"/><rect x="499.9" y="446" width="1.4" height="32" fill="#b0b0b0"/><rect x="530.6" y="446" width="1.4" height="32" fill="#b0b0b0"/><rect x="561.1999999999999" y="446" width="1.4" height="32" fill="#b0b0b0"/><rect x="592.9" y="446" width="1.4" height="32" fill="#b0b0b0"/><rect x="623.4" y="446" width="1.4" height="32" fill="#b0b0b0"/><rect x="655.1" y="446" width="1.4" height="32" fill="#b0b0b0"/><rect x="657" y="446" width="9" height="29" fill="url(#hlinesP)"/><rect x="666" y="446" width="31" height="9.4" fill="url(#hlinesP)"/><rect x="484.8" y="485" width="2.4" height="2.5" fill="#151515"/><rect x="514.8" y="485" width="2.4" height="2.5" fill="#151515"/><rect x="577.8" y="485" width="2.4" height="2.5" fill="#151515"/><rect x="611.6999999999999" y="485" width="2.4" height="2.5" fill="#151515"/><rect x="642.3" y="485" width="2.4" height="2.5" fill="#151515"/><rect x="435.7" y="443.3" width="345.5" height="4.6" fill="#151515"/><rect x="458.8" y="439.2" width="337.2" height="4.2" fill="#8a8a8a"/><rect x="458.8" y="439.2" width="337.2" height="1.3" fill="#b0b0b0"/></g><g transform="matrix(1 -0.007 0.0105 1 -3.780 5.684)"><g stroke="#2e2e2e" fill="none" stroke-linecap="square"><line x1="757.8" y1="194" x2="757.8" y2="503" stroke-width="3.1"/><line x1="870.2" y1="194" x2="870.2" y2="503" stroke-width="3.3"/><line x1="754" y1="194.5" x2="869" y2="194.5" stroke-width="2.2"/><line x1="718.4" y1="216.9" x2="906.7" y2="216.9" stroke-width="2.7"/><line x1="718.4" y1="216.4" x2="754" y2="193.8" stroke-width="2.2"/><line x1="869" y1="193.8" x2="906.7" y2="215" stroke-width="2.2"/><polyline points="758,195.5 812.5,213.2 865.9,195.5" stroke-width="2.2"/><line x1="758" y1="269.2" x2="867" y2="269.2" stroke-width="2.7"/><line x1="759.8" y1="371.8" x2="867" y2="371.8" stroke-width="2.7"/><line x1="759.8" y1="272.2" x2="866.8" y2="370.5" stroke-width="2.2"/><line x1="866.8" y1="272.2" x2="759.8" y2="370.5" stroke-width="2.2"/><line x1="816.4" y1="376.4" x2="761.9" y2="503" stroke-width="2.2"/><line x1="816.4" y1="376.4" x2="871" y2="503" stroke-width="2.2"/></g><circle cx="812" cy="320.8" r="2" fill="#1a1a1a"/><rect x="730.37" y="218.22" width="1.4" height="6" fill="#333"/><rect x="728.47" y="224.02" width="5.2" height="14" fill="#2e2e2e"/><rect x="726.67" y="223.62" width="8.8" height="2.6" rx="1.1" fill="#2a2a2a"/><rect x="727.27" y="226.12" width="7.6" height="0.8" fill="#a0a0a0"/><rect x="726.67" y="227.82" width="8.8" height="2.6" rx="1.1" fill="#2a2a2a"/><rect x="727.27" y="230.32" width="7.6" height="0.8" fill="#a0a0a0"/><rect x="726.67" y="231.92" width="8.8" height="2.6" rx="1.1" fill="#2a2a2a"/><rect x="727.27" y="234.42" width="7.6" height="0.8" fill="#a0a0a0"/><rect x="726.67" y="236.02" width="8.8" height="2.6" rx="1.1" fill="#2a2a2a"/><rect x="727.27" y="238.52" width="7.6" height="0.8" fill="#a0a0a0"/><rect x="814.27" y="218.81" width="1.4" height="6" fill="#333"/><rect x="812.37" y="224.61" width="5.2" height="14" fill="#2e2e2e"/><rect x="810.57" y="224.21" width="8.8" height="2.6" rx="1.1" fill="#2a2a2a"/><rect x="811.17" y="226.71" width="7.6" height="0.8" fill="#a0a0a0"/><rect x="810.57" y="228.41" width="8.8" height="2.6" rx="1.1" fill="#2a2a2a"/><rect x="811.17" y="230.91" width="7.6" height="0.8" fill="#a0a0a0"/><rect x="810.57" y="232.51" width="8.8" height="2.6" rx="1.1" fill="#2a2a2a"/><rect x="811.17" y="235.01" width="7.6" height="0.8" fill="#a0a0a0"/><rect x="810.57" y="236.61" width="8.8" height="2.6" rx="1.1" fill="#2a2a2a"/><rect x="811.17" y="239.11" width="7.6" height="0.8" fill="#a0a0a0"/><rect x="896.87" y="219.39" width="1.4" height="6" fill="#333"/><rect x="894.97" y="225.19" width="5.2" height="14" fill="#2e2e2e"/><rect x="893.17" y="224.79" width="8.8" height="2.6" rx="1.1" fill="#2a2a2a"/><rect x="893.77" y="227.29" width="7.6" height="0.8" fill="#a0a0a0"/><rect x="893.17" y="228.99" width="8.8" height="2.6" rx="1.1" fill="#2a2a2a"/><rect x="893.77" y="231.49" width="7.6" height="0.8" fill="#a0a0a0"/><rect x="893.17" y="233.09" width="8.8" height="2.6" rx="1.1" fill="#2a2a2a"/><rect x="893.77" y="235.59" width="7.6" height="0.8" fill="#a0a0a0"/><rect x="893.17" y="237.19" width="8.8" height="2.6" rx="1.1" fill="#2a2a2a"/><rect x="893.77" y="239.69" width="7.6" height="0.8" fill="#a0a0a0"/></g><g transform="matrix(1 -0.007 0.0105 1 -2.307 2.078)"><text x="212.2" y="225.5" font-family="Liberation Sans, sans-serif" font-weight="bold" font-size="16.0" fill="#161616" style="white-space:pre" stroke="#161616" stroke-width="0.35" textLength="169.4" lengthAdjust="spacingAndGlyphs">NUCLEAR  REACTOR</text></g><g transform="matrix(1 -0.007 0.0105 1 -3.158 4.576)"><text x="590.5" y="306.7" font-family="Liberation Sans, sans-serif" font-weight="bold" font-size="16.5" fill="#161616" style="white-space:pre" stroke="#161616" stroke-width="0.35" textLength="126.5" lengthAdjust="spacingAndGlyphs">POWER  PLANT</text></g><g transform="matrix(1 -0.007 0.0105 1 -2.552 1.276)"><text x="145.5" y="247.8" font-family="Liberation Sans, sans-serif" font-weight="bold" font-size="13.28" fill="#161616" style="white-space:pre" stroke="#161616" stroke-width="0.35" textLength="73.5" lengthAdjust="spacingAndGlyphs">REACTOR  CONTROL</text></g><g transform="matrix(1 -0.007 0.0105 1 -2.690 1.414)"><text x="185" y="261" font-family="Liberation Sans, sans-serif" font-weight="bold" font-size="13.28" fill="#161616" style="white-space:pre" stroke="#161616" stroke-width="0.35" textLength="34" lengthAdjust="spacingAndGlyphs">CONSOLE</text></g><g transform="matrix(1 -0.007 0.0105 1 -2.687 2.290)"><text x="297.6" y="260.6" font-family="Liberation Sans, sans-serif" font-weight="bold" font-size="12.96" fill="#161616" style="white-space:pre" stroke="#161616" stroke-width="0.35" textLength="59.1" lengthAdjust="spacingAndGlyphs">CONTROL  RODS</text></g><g transform="matrix(1 -0.007 0.0105 1 -2.532 4.429)"><text x="599.5" y="246" font-family="Liberation Sans, sans-serif" font-weight="bold" font-size="13.61" fill="#161616" style="white-space:pre" stroke="#161616" stroke-width="0.35" textLength="66.4" lengthAdjust="spacingAndGlyphs">ELECTRIC  POWER</text></g><g transform="matrix(1 -0.007 0.0105 1 -3.647 4.930)"><text x="688.5" y="352.2" font-family="Liberation Sans, sans-serif" font-weight="bold" font-size="13.61" fill="#161616" style="white-space:pre" stroke="#161616" stroke-width="0.35" textLength="31.7" lengthAdjust="spacingAndGlyphs">TURBINE</text></g><g transform="matrix(1 -0.007 0.0105 1 -4.021 3.233)"><text x="439.9" y="387.8" font-family="Liberation Sans, sans-serif" font-weight="bold" font-size="13.39" fill="#161616" style="white-space:pre" stroke="#161616" stroke-width="0.35" textLength="44" lengthAdjust="spacingAndGlyphs">GENERATOR</text></g><g transform="matrix(1 -0.007 0.0105 1 -4.309 1.194)"><text x="157.2" y="415" font-family="Liberation Sans, sans-serif" font-weight="bold" font-size="12.96" fill="#161616" style="white-space:pre" stroke="#161616" stroke-width="0.35" textLength="26.8" lengthAdjust="spacingAndGlyphs">SHIELD</text></g><g transform="matrix(1 -0.007 0.0105 1 -4.974 1.085)"><text x="125.7" y="478.4" font-family="Liberation Sans, sans-serif" font-weight="bold" font-size="12.96" fill="#161616" style="white-space:pre" stroke="#161616" stroke-width="0.35" textLength="58.7" lengthAdjust="spacingAndGlyphs">REACTOR  CORE</text></g><g transform="matrix(1 -0.007 0.0105 1 -5.659 1.053)"><text x="116.5" y="543.7" font-family="Liberation Sans, sans-serif" font-weight="bold" font-size="13.28" fill="#161616" style="white-space:pre" stroke="#161616" stroke-width="0.35" textLength="67.9" lengthAdjust="spacingAndGlyphs">URANIUM  RODS</text></g><g transform="matrix(1 -0.007 0.0105 1 -5.340 3.504)"><text x="475.9" y="513.2" font-family="Liberation Sans, sans-serif" font-weight="bold" font-size="12.96" fill="#161616" style="white-space:pre" stroke="#161616" stroke-width="0.35" textLength="49.2" lengthAdjust="spacingAndGlyphs">CONDENSATE</text></g><g transform="matrix(1 -0.007 0.0105 1 -5.660 4.101)"><text x="548.7" y="543.7" font-family="Liberation Sans, sans-serif" font-weight="bold" font-size="12.96" fill="#161616" style="white-space:pre" stroke="#161616" stroke-width="0.35" textLength="74.2" lengthAdjust="spacingAndGlyphs">HOT  LIQUID  METAL</text></g><g transform="matrix(1 -0.007 0.0105 1 -5.726 5.294)"><text x="744" y="550.2" font-family="Liberation Sans, sans-serif" font-weight="bold" font-size="13.61" fill="#161616" style="white-space:pre" stroke="#161616" stroke-width="0.35" textLength="24.6" lengthAdjust="spacingAndGlyphs">STEAM</text></g><g transform="matrix(1 -0.007 0.0105 1 -6.509 4.960)"><text x="695.7" y="624.7" font-family="Liberation Sans, sans-serif" font-weight="bold" font-size="13.28" fill="#161616" style="white-space:pre" stroke="#161616" stroke-width="0.35" textLength="25.8" lengthAdjust="spacingAndGlyphs">BOILER</text></g><g transform="matrix(1 -0.007 0.0105 1 -6.965 3.882)"><text x="515.1" y="668.1" font-family="Liberation Sans, sans-serif" font-weight="bold" font-size="13.28" fill="#161616" style="white-space:pre" stroke="#161616" stroke-width="0.35" textLength="79" lengthAdjust="spacingAndGlyphs">COOL  LIQUID  METAL</text></g><g stroke="#1a1a1a" stroke-width="1"><line x1="187" y1="410.4" x2="208" y2="410.4"/><line x1="187" y1="473.9" x2="252.5" y2="473.9"/><line x1="187" y1="538.3" x2="267" y2="538.3"/></g><g stroke="#cfcfcf" stroke-width="0.9"><line x1="189" y1="411.3" x2="208" y2="411.3"/><line x1="189" y1="474.8" x2="252.5" y2="474.8"/><line x1="189" y1="539.2" x2="267" y2="539.2"/></g></svg>
</body></html>
